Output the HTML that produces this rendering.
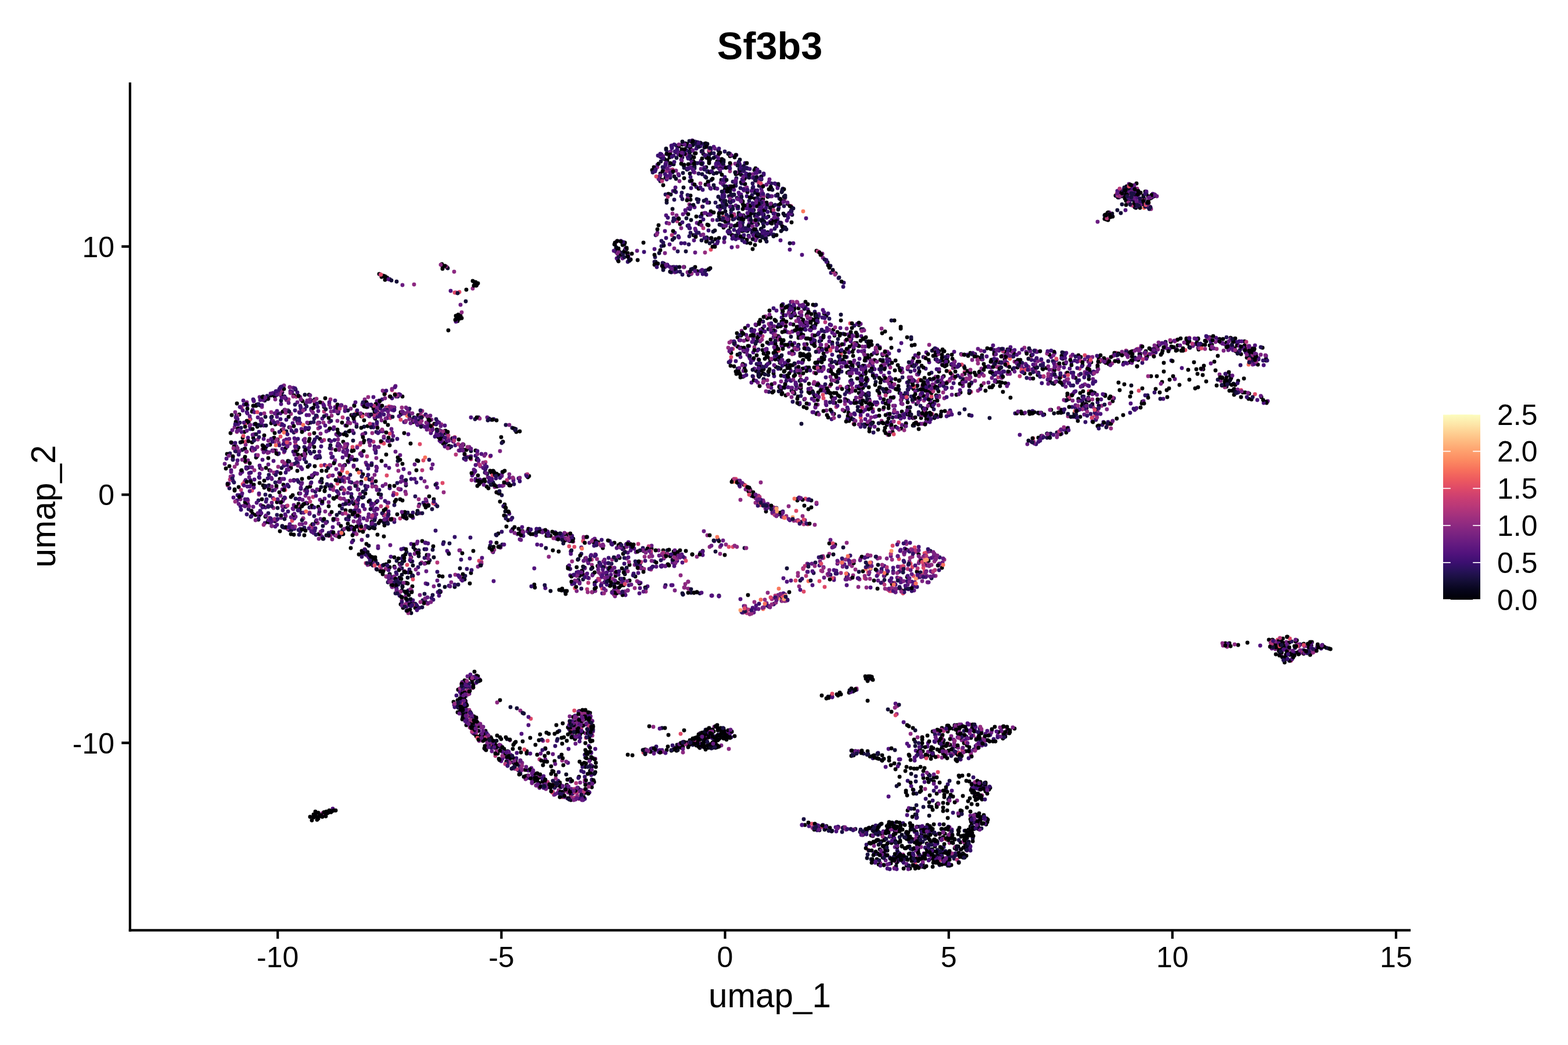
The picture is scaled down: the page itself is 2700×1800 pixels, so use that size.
<!DOCTYPE html><html><head><meta charset="utf-8"><style>html,body{margin:0;padding:0;background:#fff;}svg{display:block}text{font-family:"Liberation Sans",Arial,sans-serif;fill:#000}</style></head><body>
<svg width="2700" height="1800" viewBox="0 0 2700 1800">
<rect width="2700" height="1800" fill="#fff"/>
<defs><linearGradient id="g" x1="0" y1="0" x2="0" y2="1"><stop offset="0.000" stop-color="#fcfdbf"/><stop offset="0.050" stop-color="#fde7a9"/><stop offset="0.100" stop-color="#fecf92"/><stop offset="0.150" stop-color="#feb77e"/><stop offset="0.200" stop-color="#fe9f6d"/><stop offset="0.250" stop-color="#fc8961"/><stop offset="0.300" stop-color="#f7705c"/><stop offset="0.350" stop-color="#ed5a5f"/><stop offset="0.400" stop-color="#de4968"/><stop offset="0.450" stop-color="#ca3e72"/><stop offset="0.500" stop-color="#b73779"/><stop offset="0.550" stop-color="#a1307e"/><stop offset="0.600" stop-color="#8c2981"/><stop offset="0.650" stop-color="#782281"/><stop offset="0.700" stop-color="#641a80"/><stop offset="0.750" stop-color="#51127c"/><stop offset="0.800" stop-color="#3b0f70"/><stop offset="0.850" stop-color="#251255"/><stop offset="0.900" stop-color="#140e36"/><stop offset="0.950" stop-color="#06051a"/><stop offset="1.000" stop-color="#000004"/></linearGradient></defs>
<g fill="none" stroke-width="6.90" stroke-linecap="round"><path stroke="#3b0f70" d="M1161 249h0m21 10h0m6-5h0m3-11h0m6 1h0m27 14h0m13 1h0m-100 11h0m41 14h0m6-14h0m2 13h0m1-19h0m19 16h0m11-8h0m21 8h0m7 9h0m15-21h0m13 28h0m5-2h0m3 1h0m2-14h0m2 18h0m2-9h0m-118 12h0m4 36h0m26-16h0m15-18h0m34 1h0m32-2h0m2 14h0m4-12h0m0 33h0m11-16h0m0 4h0m12-10h0m1-11h0m-102 67h0m55 2h0m3 1h0m39-29h0m4-2h0m3 23h0m3 2h0m35-23h0m-171 73h0m34-9h0m51 0h0m0-14h0m3 16h0m14-19h0m14 8h0m0-4h0m8 13h0m0-11h0m13-1h0m5-13h0m7 18h0m-219 31h0m45 34h0m36 4h0m16-5h0m10 6h0m116 58h0m27 5h0m28-7h0m-41 18h0m62 8h0m7 15h0m1-23h0m51 30h0m-143 15h0m5 27h0m20-32h0m44 24h0m302-6h0m48 9h0m41-8h0m206 1h0m126-5h0m-849 20h0m16 7h0m2 17h0m48 2h0m21 2h0m64-16h0m64 14h0m21-4h0m20 12h0m12-3h0m27 6h0m1-23h0m18 9h0m13-10h0m120 10h0m6-5h0m51-6h0m25-8h0m23 31h0m14-9h0m12-24h0m6-3h0m7 34h0m19-14h0m9 16h0m-1466 40h0m17-7h0m46-23h0m3 9h0m33 13h0m91 9h0m43-8h0m5-2h0m684-22h0m68-2h0m81-3h0m6 27h0m23 5h0m60-29h0m18 4h0m243-8h0m41 1h0m-1444 70h0m11-18h0m35 19h0m63-31h0m27 38h0m25-18h0m43 10h0m0 0h0m1 5h0m0-32h0m22-2h0m2 18h0m29 7h0m7-22h0m15 25h0m5-14h0m709 6h0m27-20h0m76 25h0m4-16h0m70 7h0m-1202 59h0m31-19h0m8-14h0m23-3h0m2 14h0m71 2h0m53 10h0m66-13h0m123 13h0m-383 20h0m78-5h0m37 8h0m19-9h0m86 31h0m13-5h0m6-9h0m198 6h0m-446 29h0m9-5h0m11 25h0m100-26h0m3 33h0m52-6h0m3-15h0m22-17h0m13 29h0m9-14h0m27-4h0m30 8h0m17 2h0m154-13h0m12-6h0m39 0h0m-406 49h0m0 6h0m104-10h0m23 6h0m11-5h0m104-4h0m213 52h0m14-1h0m29 6h0m51 7h0m14 2h0m-26 26h0m13 18h0m10 3h0m21-36h0m20 1h0m51 32h0m1-20h0m-147 30h0m48 17h0m50-15h0m1138 136h0m46-7h0m2-6h0m1 3h0m-1482 61h0m-13 43h0m13 1h0m6-20h0m185 51h0m666-1h0m-814 21h0m1-4h0m859 9h0m12-2h0m-802 67h0m20-2h0m9 6h0m5 12h0m64 20h0"/>
<path stroke="#7c2382" d="M1181 266h0m15 31h0m19-30h0m6 12h0m16-12h0m29 15h0m7-1h0m24 19h0m-15 25h0m21 7h0m681 8h0m-690 21h0m3-6h0m6-11h0m607 22h0m35-21h0m16 11h0m1-3h0m-682 56h0m-209 31h0m91 29h0m220 86h0m46 13h0m-123 18h0m1 33h0m3-31h0m37 7h0m22 6h0m35-10h0m220 25h0m66-12h0m45 11h0m147 0h0m36-2h0m25 2h0m23-19h0m140-4h0m58 21h0m-807 13h0m26-2h0m26 36h0m68-33h0m29-7h0m60 11h0m14 14h0m6 10h0m26-6h0m30-15h0m30 16h0m3-30h0m97 12h0m47-1h0m40 15h0m10-1h0m6-13h0m0-9h0m226 22h0m2 11h0m-1613 27h0m0-19h0m2 22h0m2 3h0m24-5h0m17 4h0m33 9h0m61-9h0m5 8h0m30-10h0m745 11h0m14-1h0m41-20h0m20 3h0m75 3h0m30-16h0m5 0h0m252 14h0m23-18h0m-1464 74h0m1-26h0m46-9h0m56 21h0m41 6h0m56-24h0m45 29h0m52-22h0m3-2h0m39 14h0m680-16h0m38 8h0m37 10h0m23-20h0m14 32h0m421-33h0m-1549 65h0m16-3h0m35 11h0m17-1h0m96-3h0m15-25h0m6 24h0m5-4h0m73-8h0m120 16h0m18-6h0m-400 29h0m19-6h0m71 12h0m79-12h0m68 25h0m3-29h0m179 14h0m26 16h0m24-2h0m-401 23h0m49 5h0m1 9h0m85-21h0m4-2h0m49 3h0m71 5h0m105-17h0m12 17h0m449 19h0m-881 13h0m72 18h0m41-4h0m16 0h0m19 1h0m32 2h0m9 10h0m41-21h0m4 21h0m69-14h0m592-19h0m32 18h0m-821 18h0m26 20h0m20 8h0m352-17h0m81 15h0m-373 30h0m5 14h0m77-17h0m109 22h0m159 4h0m97-18h0m14 11h0m70-4h0m16-8h0m211 10h0m61 5h0m105 0h0m10-9h0m19-5h0m11 12h0m7-1h0m-844 46h0m35-21h0m220-2h0m11 22h0m18-1h0m27-14h0m92 14h0m373-1h0m20-31h0m-863 49h0m367-7h0m261 12h0m32-15h0m854 105h0m9-23h0m21 7h0m10 0h0m5 0h0m-1448 63h0m-14 12h0m6 32h0m4-15h0m203 39h0m228 8h0m440-4h0m64 10h0m-919 5h0m120 13h0m73-13h0m234 21h0m236 10h0m110-24h0m50-2h0m5 12h0m10 18h0m3-23h0m16 22h0m9-25h0m26-10h0m18-2h0m-848 45h0m15 10h0m7-1h0m723-9h0m-706 44h0m12 1h0m8-2h0m4 11h0m14 10h0m2-14h0m43-7h0m649 31h0m35 27h0m2 11h0m-174 30h0m75 12h0m13-34h0m-83 62h0"/>
<path stroke="#251255" d="M1165 251h0m46-3h0m-63 17h0m1-3h0m9 35h0m29-25h0m9 18h0m25-23h0m24 16h0m3-22h0m60 35h0m-154 10h0m66 7h0m35 25h0m2-13h0m3 13h0m8-31h0m9 9h0m2-7h0m17 15h0m32-8h0m20 9h0m-187 19h0m45 29h0m26-24h0m7 17h0m16 7h0m19-29h0m3 1h0m8 10h0m3-1h0m3 4h0m4 9h0m16-1h0m29 4h0m-211 35h0m55-16h0m5 12h0m100 5h0m14-7h0m16 11h0m13-6h0m2-10h0m15-3h0m-222 60h0m1-8h0m39-10h0m19-12h0m-30 48h0m0-3h0m9-6h0m10 13h0m228 64h0m-89 17h0m61-1h0m4 18h0m36-3h0m14-9h0m23 16h0m19-14h0m5 15h0m-170 26h0m62-3h0m7 2h0m13 13h0m202 1h0m122-10h0m400-24h0m31 22h0m-888 21h0m15 11h0m33-8h0m4 14h0m2-15h0m45 30h0m2-34h0m15 12h0m78 6h0m5-17h0m114 17h0m14 3h0m0-9h0m22 8h0m97-10h0m67 19h0m45-29h0m43 0h0m-1400 68h0m43-23h0m186 16h0m680 9h0m58-16h0m59 14h0m40-16h0m103-9h0m5 3h0m-1217 60h0m55-3h0m6-13h0m16-6h0m19 14h0m26 8h0m1-22h0m4-4h0m109 25h0m1-17h0m40 4h0m718-3h0m37 6h0m43 14h0m94-17h0m12 14h0m14-23h0m-1102 40h0m31 20h0m4-5h0m27 12h0m67-14h0m11 17h0m2-31h0m94-3h0m-346 40h0m150 8h0m68 3h0m185-2h0m24 2h0m27 20h0m15 1h0m-470 28h0m8-10h0m28-4h0m83 3h0m4 12h0m66-19h0m21 8h0m13 26h0m35-13h0m223-11h0m-431 29h0m32 25h0m42-4h0m22 6h0m55 5h0m9-14h0m32-18h0m234 27h0m11 3h0m-368 21h0m1 8h0m2-6h0m49 3h0m14 5h0m303-12h0m98 69h0m20-26h0m11 13h0m5-9h0m74-14h0m16 0h0m3 4h0m9 1h0m5 27h0m3-9h0m1093 171h0m19-28h0m5 10h0m24-5h0m-1470 69h0m4 31h0m6 16h0m183 4h0m669 24h0m-814 29h0m795 0h0m92-25h0m-837 47h0m22 24h0m11 16h0m6 4h0m20 3h0m2-7h0m7 1h0m13 24h0m21-15h0"/>
<path stroke="#942c80" d="M1132 288h0m815 35h0m-760 29h0m164-9h0m-289 73h0m331 122h0m-22 15h0m-83 32h0m159 10h0m77 10h0m87 4h0m1-8h0m74 18h0m78-20h0m80 15h0m63 5h0m35-7h0m81-24h0m101-4h0m39 35h0m-866 30h0m24 6h0m19-20h0m19 18h0m10-26h0m9 20h0m24-5h0m16-8h0m13 3h0m209 9h0m153-25h0m12 28h0m7-12h0m15 22h0m9-16h0m1 11h0m37-21h0m16-4h0m25-3h0m-1418 62h0m58 6h0m874-29h0m149 22h0m23-15h0m15 26h0m68-25h0m213 26h0m-1413 31h0m8-19h0m9 2h0m45 5h0m2 20h0m9-10h0m168-18h0m2-2h0m33 23h0m676-11h0m387-17h0m16 14h0m42 2h0m1-18h0m8 7h0m-1446 49h0m25-16h0m4 20h0m7 2h0m9 16h0m1-3h0m5-9h0m15-24h0m271 18h0m748-12h0m265 2h0m-1371 45h0m162 5h0m24 3h0m77 7h0m138-12h0m-378 53h0m45 6h0m41 0h0m6-37h0m55 9h0m85 19h0m43 11h0m43-12h0m120-23h0m380 1h0m42 28h0m-835 21h0m141 9h0m123-18h0m566 0h0m29 18h0m7 0h0m-798 26h0m44 14h0m404 9h0m98 5h0m476-1h0m-933 9h0m10 23h0m88 0h0m125-22h0m134 20h0m28 1h0m6 5h0m9-10h0m13 13h0m58 3h0m17-34h0m312 9h0m28 10h0m7 8h0m4 3h0m15-13h0m17-5h0m22 18h0m58-24h0m11 8h0m27 12h0m-943 31h0m110-12h0m219-3h0m6 3h0m29-3h0m14 20h0m41 6h0m28-32h0m253 6h0m62 9h0m12-9h0m72 16h0m20 1h0m11 11h0m0-33h0m2 20h0m27-7h0m12-8h0m14-1h0m-906 55h0m1-3h0m356-14h0m223 31h0m37-22h0m882 75h0m6 13h0m-1385 43h0m-6 21h0m-23 41h0m8 11h0m4 5h0m8-4h0m13 8h0m909 7h0m-902 23h0m6-4h0m1 13h0m178-24h0m4 6h0m591 0h0m65 0h0m28-2h0m30-4h0m-867 43h0m101 6h0m686-2h0m-692 53h0m3-9h0m36 21h0m8-9h0m4-13h0m678 19h0m-91 58h0m35 24h0m-119 37h0m64-21h0m1 6h0"/>
<path stroke="#4c117a" d="M1925 336h0m14-5h0m10-3h0m4-5h0m1 15h0m-27 2h0m18 9h0m-393 242h0m567 62h0m57-24h0m-173 58h0m-373 30h0m209 20h0m14-18h0m42-6h0m5 14h0m54-21h0m3-3h0m-1091 58h0m922 0h0m39-21h0m1 7h0m-1164 152h0m47-7h0m39-23h0m567 0h0m28 17h0m15 10h0m46-28h0m-836 50h0m138 19h0m859-2h0m-932 25h0m16-16h0m22 15h0m156 12h0m337-5h0m217 13h0m28-5h0m147-29h0m6 28h0m18-31h0m22 19h0m-956 19h0m35 9h0m71 31h0m682-38h0m4 1h0m18 5h0m38 1h0m14-6h0m25 13h0m7 11h0m30 2h0m-871 26h0m7 1h0m4 6h0m566 13h0m3-11h0m20 5h0m48-27h0m7 12h0m-105 226h0m-389 28h0m77 2h0m59-13h0m27 13h0m109 5h0m42-17h0m21-3h0m6 8h0m-185 52h0m-10 11h0m561 8h0m23-7h0m96 27h0m-110 35h0m-185 14h0m16 4h0m43 0h0m31 11h0m24-12h0m5-1h0m9 7h0m18-3h0m31 19h0m5-15h0m25 1h0m-83 37h0m29 13h0m40-5h0m2-4h0m4 1h0m62-13h0"/>
<path stroke="#f9795d" d="M1341 1014h0"/>
<path stroke="#090720" d="M1189 260h0m24-6h0m-76 45h0m21-17h0m6-20h0m19 30h0m6-18h0m2 7h0m5-17h0m15 1h0m5 23h0m58-13h0m0 18h0m25 0h0m-135 15h0m93 30h0m2-13h0m17-24h0m20 27h0m44-8h0m582 17h0m10 1h0m3-6h0m10-5h0m15 7h0m-715 40h0m4-28h0m23 31h0m28-5h0m15-1h0m22 8h0m14-8h0m574-31h0m30 0h0m0 5h0m8-2h0m2 4h0m17-6h0m-765 68h0m69 9h0m1-20h0m24 6h0m12 0h0m15-24h0m-276 49h0m2 19h0m8-6h0m3-21h0m1 10h0m57 23h0m21 14h0m5-8h0m36 4h0m965 146h0m-56 40h0m-234 47h0m22 2h0m56-35h0m164 2h0m4-5h0m8 0h0m-309 51h0m35 0h0m37-7h0m-92 49h0m-925 127h0m444-11h0m-678 86h0m20 20h0m91-16h0m688-5h0m0-13h0m77 31h0m-847 20h0m6-4h0m17 6h0m4 22h0m5 2h0m14-27h0m55 19h0m17 0h0m165 7h0m-238 21h0m23-1h0m612-10h0m81 172h0m-200 57h0m-353 16h0m34 25h0m103 1h0m103-6h0m23 3h0m30-13h0m17-4h0m28 4h0m27-10h0m9-11h0m-239 43h0m591 29h0m-580 9h0m660 6h0m1 54h0m-269 27h0m101 3h0m54 11h0m8-14h0m8 23h0m26-18h0m11 9h0m57-19h0m0 1h0m8-4h0m-162 68h0m21-13h0m18 14h0m10-28h0m10 0h0m42 18h0m18-8h0m29-12h0"/>
<path stroke="#140e36" d="M1180 247h0m3 5h0m4-9h0m-48 28h0m3 22h0m33-22h0m3 18h0m18-2h0m22 9h0m3-24h0m0-11h0m2 13h0m17 5h0m0 17h0m33-5h0m-136 21h0m13 23h0m59-35h0m7 6h0m7 18h0m2-14h0m6 14h0m59-18h0m18 13h0m19 7h0m1-2h0m2 3h0m16 4h0m6 9h0m-163 14h0m58-8h0m2 5h0m7-4h0m5 9h0m8-15h0m3 30h0m20 3h0m10-19h0m29 7h0m3 6h0m12-20h0m9 23h0m4-4h0m5 3h0m566-3h0m-722 47h0m52-9h0m6 1h0m12-18h0m-149 63h0m-446 34h0m88-23h0m415 12h0m-384 45h0m583 13h0m-91 35h0m81 11h0m15-37h0m16 13h0m80 13h0m-195 47h0m55-2h0m2-15h0m40 4h0m53 3h0m51-16h0m113 16h0m6 15h0m101-16h0m120 12h0m91-3h0m84-23h0m128 14h0m-812 43h0m2-21h0m16-5h0m16 10h0m20 26h0m16-23h0m51 10h0m46-7h0m33 0h0m8-7h0m60 30h0m68-6h0m1-22h0m64-6h0m157 17h0m-1434 56h0m27-21h0m35-6h0m1 12h0m15-3h0m15 10h0m2-2h0m89 5h0m754-5h0m79-15h0m16 20h0m8-14h0m8-2h0m0 4h0m52-10h0m16-6h0m14 31h0m2-24h0m10-4h0m14 18h0m-1180 41h0m2 1h0m70-21h0m131 28h0m10-20h0m14-12h0m43 7h0m27 15h0m17 5h0m6 7h0m733-36h0m21 35h0m39-17h0m167 1h0m-1287 55h0m150-17h0m15-8h0m2 16h0m11-21h0m13 14h0m158 9h0m2-6h0m27 5h0m-347 39h0m37 0h0m60-20h0m140 8h0m154 22h0m-374 38h0m57 39h0m63-10h0m75 14h0m0-12h0m7 2h0m-169 26h0m4 0h0m35 3h0m19-10h0m371 9h0m17 8h0m40 9h0m-123 9h0m122 9h0m96 28h0m26 0h0m45-23h0m15 1h0m67-6h0m50-6h0m73 35h0m-351 19h0m171 24h0m1 2h0m14-3h0m48 5h0m954 79h0m38 11h0m-1428 58h0m1-1h0m18-8h0m-35 49h0m3 5h0m9-27h0m6 41h0m86-13h0m91 33h0m0 3h0m24-16h0m4 7h0m9 6h0m626-4h0m34 11h0m-843 29h0m20-1h0m732-2h0m35-1h0m3-10h0m1 23h0m38-29h0m23 5h0m-791 55h0m701-28h0m-670 50h0"/>
<path stroke="#de4968" d="M1940 335h0m32-1h0m-763 22h0m728-16h0m-1146 163h0m573 68h0m100-14h0m-202 44h0m186 9h0m420 2h0m8 5h0m102-7h0m63-7h0m119 16h0m-525 21h0m21-12h0m171 21h0m-1164 29h0m7 22h0m747-20h0m1 6h0m-996 44h0m322 3h0m1162 1h0m9-7h0m-1432 25h0m12 6h0m14 8h0m214-1h0m60-12h0m-275 46h0m81 12h0m77 8h0m63-26h0m-295 52h0m147-12h0m181-1h0m505-7h0m21 20h0m-785 52h0m164-24h0m640-5h0m64 12h0m20 23h0m-737 72h0m444-25h0m164-8h0m156 19h0m116-7h0m3-14h0m11 23h0m7 12h0m16 2h0m4-34h0m17 10h0m1 8h0m-223 39h0m41 1h0m78-5h0m6-10h0m40 32h0m38-26h0m6-8h0m13 0h0m-298 70h0m261-32h0m-641 216h0m79 17h0m-148 27h0m98-6h0m66-5h0m99 25h0m147-31h0m-351 73h0m64 35h0m527 91h0m81 22h0"/>
<path stroke="#6b1d81" d="M1992 338h0m-1207 166h0"/>
<path stroke="#331067" d="M1940 331h0m6-3h0m2-9h0m3 16h0m-6 5h0m26 3h0m-540 127h0m7 1h0m14 23h0m515 131h0m50-4h0m119 8h0m-272 63h0m2-9h0m12 17h0m-1028 22h0m784-7h0m2-8h0m112 5h0m104-9h0m26 10h0m14-10h0m6 29h0m-122 29h0m8 4h0m-522 64h0m2-3h0m27 16h0m3 12h0m-615 45h0m632-31h0m35 22h0m2-9h0m-729 29h0m164 15h0m-63 52h0m129-26h0m327 8h0m216 13h0m18-12h0m48 17h0m6-20h0m26 3h0m56-2h0m50 13h0m-891 10h0m68 28h0m2-17h0m8 15h0m656-19h0m2 0h0m19 2h0m39-10h0m36 23h0m3-19h0m22 29h0m19-2h0m4-22h0m1 5h0m-896 32h0m12 26h0m6-9h0m31-4h0m6-9h0m603 5h0m5 0h0m124 153h0m-519 97h0m31-15h0m20 30h0m119-4h0m32-12h0m54-12h0m2-5h0m12 4h0m33-1h0m252 29h0m1-2h0m-511 31h0m4 2h0m2 8h0m496-32h0m-542 39h0m633 31h0m12 3h0m23-19h0m3-9h0m41 8h0m4 7h0m2 1h0m4-15h0m-144 66h0m16 0h0m86-18h0m37 17h0m8-3h0m-279 16h0m83-1h0m2 26h0m7-28h0m84-3h0m10 36h0m16-11h0m9-29h0m15 20h0m32 4h0m2 8h0m17-31h0m-175 50h0m23 26h0m15-24h0m27 18h0m5-29h0m34 12h0m25 1h0m7-5h0"/>
<path stroke="#1a1042" d="M1936 335h0m2-5h0m14-3h0m22 6h0m-72 38h0m8 1h0m56-23h0m-894 71h0m0 15h0m1 2h0m357 21h0m730 162h0m-303 67h0m7-4h0m10 2h0m28 12h0m1-17h0m73 1h0m158-7h0m-1316 48h0m53 10h0m11 5h0m770-25h0m135-1h0m16 43h0m17-9h0m-1153 153h0m40-10h0m1 1h0m30-18h0m0-1h0m15 2h0m-163 41h0m18 18h0m25-8h0m131 11h0m80 6h0m21-2h0m-218 28h0m3 5h0m42 8h0m2-21h0m6-7h0m21-3h0m3 23h0m21-24h0m746 22h0m7 1h0m93-2h0m-923 35h0m7 2h0m4-9h0m5 10h0m24 12h0m1-25h0m264 26h0m428-32h0m117-4h0m20 23h0m47-20h0m19 10h0m-923 26h0m20-1h0m14 19h0m16-17h0m1 12h0m13-10h0m579 20h0m-361 214h0m252-2h0m2 0h0m4 3h0m-236 5h0m136 25h0m72-7h0m-170 50h0m-40 13h0m650 31h0m2-32h0m47 26h0m-104 16h0m12 3h0m-176 34h0m19 7h0m18-5h0m2-1h0m12 3h0m8 0h0m8 5h0m15-7h0m20-6h0m10 15h0m15-9h0m16 16h0m9 8h0m23 0h0m2-8h0m2 3h0m93-18h0m4 0h0m-190 53h0m26-7h0m13 3h0m17 2h0m27-6h0m23 0h0m7 2h0m1-10h0m4 26h0m12-5h0m2-8h0m3-2h0"/>
<path stroke="#b73779" d="M1158 292h0m100-9h0m672 49h0m39 11h0m-758 50h0m565 220h0m146-5h0m51 8h0m53-30h0m121 21h0m-486 34h0m56-9h0m2 18h0m12-27h0m25 25h0m103-13h0m-1349 48h0m937-17h0m225 9h0m-1114 34h0m19-8h0m76 3h0m19 13h0m0 3h0m43 5h0m13-8h0m11 5h0m731 8h0m33-25h0m75 23h0m-1153 50h0m0-18h0m108-12h0m25 10h0m85 3h0m146 4h0m47 31h0m-440 30h0m25 4h0m118 26h0m101-28h0m-208 52h0m224-8h0m13 22h0m665-7h0m2 1h0m-840 20h0m39-2h0m442 14h0m122 17h0m285-34h0m163 31h0m-718 34h0m332-10h0m9-2h0m380 20h0m24-25h0m9 16h0m13 1h0m0-4h0m20 10h0m-605 41h0m19-18h0m32 20h0m326-25h0m124-3h0m22 27h0m76-34h0m-874 58h0m550 16h0m43-24h0m894 106h0m-1426 49h0m25 64h0m179 5h0m622 39h0m71-23h0m-841 30h0m762 1h0m-663 61h0m492 61h0m174 57h0"/>
<path stroke="#51127c" d="M1229 253h0m-86 36h0m41 1h0m10 6h0m44-6h0m8-5h0m11-20h0m19 30h0m27 3h0m-168 11h0m58 8h0m55-9h0m8 13h0m8 15h0m8-4h0m1 3h0m18-35h0m9 28h0m11-3h0m-115 32h0m28 12h0m16-9h0m17-4h0m31-4h0m11 3h0m16 7h0m14 17h0m7-10h0m3 8h0m19-8h0m30 7h0m-240 8h0m87 35h0m37-18h0m0 9h0m5 0h0m36-10h0m13-18h0m18 32h0m22 5h0m-545 72h0m324-31h0m9 0h0m55 5h0m138 74h0m21-10h0m23 4h0m26 1h0m-100 37h0m11 1h0m7-2h0m30 1h0m45 2h0m21-13h0m16 5h0m36 14h0m-212 18h0m19-1h0m3 24h0m11-16h0m16-3h0m15 2h0m3 14h0m1-32h0m28 24h0m86-16h0m5 22h0m4-8h0m26-3h0m20-2h0m106 2h0m0-2h0m16 16h0m13-12h0m23 5h0m44-16h0m10 9h0m0-3h0m20-3h0m42 7h0m28 10h0m6-7h0m20 0h0m170-17h0m60 6h0m28-15h0m11 9h0m17 5h0m1 7h0m8-9h0m20 2h0m-857 63h0m17-28h0m45 17h0m6-9h0m13-15h0m32 4h0m2 9h0m29 19h0m19-28h0m7 29h0m2-20h0m5 0h0m9 15h0m9-22h0m20 17h0m15-14h0m54-6h0m22-3h0m5 30h0m34-3h0m30-6h0m16 2h0m23-7h0m6 15h0m11-30h0m34 15h0m5-2h0m20-4h0m40 17h0m18-16h0m13-12h0m18 20h0m-1454 47h0m7 8h0m25 0h0m33-2h0m0-17h0m16-5h0m129 22h0m14-12h0m8 15h0m1-4h0m10-19h0m25 3h0m655-14h0m3 8h0m7-12h0m18 1h0m23 34h0m8-17h0m37 7h0m37-20h0m8 34h0m0-28h0m116 3h0m3 17h0m15-10h0m71-12h0m48-9h0m-1305 61h0m4-16h0m9 13h0m10 14h0m29-21h0m72 9h0m5 12h0m17-31h0m18 31h0m15-7h0m23-25h0m18 16h0m4-5h0m39 0h0m17 10h0m25 14h0m0-6h0m668-29h0m56 4h0m26 4h0m4-3h0m4 9h0m32 14h0m3-16h0m5 21h0m26-22h0m33-5h0m8 11h0m-1174 36h0m7 22h0m31-10h0m21 7h0m21-18h0m18 22h0m56-9h0m10 10h0m76-19h0m9-1h0m84-4h0m8 0h0m4 2h0m8 4h0m29 13h0m-411 37h0m31-5h0m14-19h0m9 6h0m42 17h0m9-9h0m15 5h0m41-4h0m10 1h0m7-6h0m8 19h0m80-13h0m31 6h0m107-16h0m62 26h0m-448 36h0m17-19h0m37 23h0m46 1h0m28-5h0m39-3h0m5-27h0m4 26h0m10-20h0m4 28h0m86-37h0m134 5h0m6 1h0m33 10h0m-457 25h0m19 6h0m19 21h0m18 11h0m43-7h0m70 1h0m24-26h0m11 22h0m7 6h0m22-23h0m5 19h0m15-4h0m216-3h0m-421 16h0m21 3h0m13 5h0m9-6h0m37 12h0m4 3h0m33 1h0m44-14h0m315 34h0m51 11h0m30 20h0m2-6h0m32 6h0m15-26h0m20 16h0m10-15h0m15 2h0m11 33h0m25-24h0m25 2h0m6-3h0m1 14h0m31-17h0m4 4h0m-228 35h0m10-1h0m19-2h0m16 13h0m16-1h0m9-10h0m6 19h0m41-22h0m3 26h0m1-9h0m12 6h0m43-2h0m241 0h0m59 0h0m-381 17h0m24-3h0m124 4h0m13 1h0m932 85h0m44 16h0m23-6h0m10 2h0m-1455 93h0m2-20h0m7 12h0m8-26h0m733 29h0m-717 47h0m85-10h0m70 7h0m10-4h0m1-19h0m6-8h0m3 24h0m9-1h0m670 10h0m-843 33h0m694-1h0m47 3h0m21-13h0m18-5h0m34 21h0m9-30h0m31-6h0m7 4h0m-834 47h0m23 5h0m10 13h0m40 8h0m614-29h0m28-6h0m8 2h0m-657 53h0m39 8h0m20 0h0m19 1h0m-434 27h0"/>
<path stroke="#000004" d="M1169 252h0m5 5h0m3-10h0m12 9h0m3-11h0m-69 48h0m3-5h0m15 7h0m3-21h0m5 2h0m23-13h0m2-3h0m16 9h0m8-5h0m15 25h0m3-18h0m4 2h0m21 6h0m2-5h0m14 7h0m0-12h0m20 19h0m9-7h0m15 9h0m-165 14h0m4 6h0m2 9h0m9 15h0m27-27h0m37 11h0m33 9h0m34-19h0m40 31h0m2-13h0m3-4h0m594 15h0m3 1h0m2-1h0m4-4h0m24 3h0m3-6h0m2-1h0m10 8h0m3-7h0m-804 46h0m41-8h0m30 10h0m1-23h0m4 12h0m1-27h0m35 31h0m11-31h0m1 14h0m2-14h0m6 2h0m4 13h0m8-8h0m3 15h0m26-9h0m3-2h0m560 26h0m1-5h0m3 7h0m31-33h0m6-3h0m6-3h0m3 17h0m15-5h0m9-3h0m2-7h0m-904 76h0m140-2h0m1-1h0m1-28h0m20 23h0m23-5h0m14 2h0m3-9h0m1 12h0m1-1h0m6 4h0m6 6h0m5-16h0m4-8h0m26-11h0m2 1h0m-568 70h0m1 4h0m296-38h0m28 26h0m12 1h0m29 8h0m169-27h0m4-7h0m-642 54h0m2-1h0m3 7h0m106-22h0m34 39h0m11-15h0m6 8h0m377-32h0m3 7h0m147 66h0m21-1h0m7-1h0m12-11h0m32 20h0m-647 29h0m14-21h0m2 5h0m2-7h0m3-2h0m2 4h0m474 26h0m14-9h0m30 1h0m8-18h0m6-1h0m2 15h0m3 7h0m4-16h0m3 10h0m7-9h0m1 18h0m2-21h0m4 11h0m8-18h0m5 15h0m3 10h0m6-22h0m4-1h0m20 5h0m1 14h0m4-21h0m0 16h0m0-19h0m42 37h0m9-2h0m7 3h0m17-19h0m40 14h0m32-11h0m538 16h0m-831 26h0m1 3h0m22-8h0m32 3h0m7 10h0m6 6h0m1-34h0m8 7h0m0 11h0m0 16h0m0-28h0m2 16h0m9-14h0m15-3h0m14 4h0m0-12h0m8 28h0m0 2h0m10 7h0m1-6h0m7-21h0m2 4h0m8 24h0m0-20h0m3-14h0m33 19h0m7 1h0m1 1h0m1 8h0m8-29h0m11 5h0m2 4h0m9-12h0m1 1h0m5 33h0m2-5h0m1-20h0m1-4h0m1 29h0m3-29h0m1 23h0m9-2h0m25-10h0m27-18h0m11 36h0m35-15h0m18 3h0m45 3h0m12 7h0m47-9h0m27 14h0m104-5h0m31 3h0m3-6h0m6 5h0m18-9h0m31-3h0m4 13h0m6 2h0m11-12h0m23-12h0m7 12h0m36-4h0m6-21h0m2 9h0m3 6h0m15-14h0m12 10h0m2-6h0m6-7h0m4 13h0m13-10h0m6 0h0m13-2h0m8 1h0m1 22h0m2-10h0m7 15h0m12 0h0m4-6h0m0-1h0m1 2h0m1 10h0m1 2h0m1-7h0m2-7h0m15-4h0m6 19h0m-916 13h0m15 18h0m0-22h0m19 28h0m1-19h0m3 3h0m4 8h0m1-17h0m8 23h0m5-24h0m3 11h0m13-8h0m7-7h0m8 14h0m1-11h0m4 6h0m4 0h0m5-5h0m10 3h0m4 22h0m3-32h0m7 11h0m3 1h0m10-1h0m2 1h0m0-9h0m23 13h0m3 1h0m2 16h0m7-9h0m6-23h0m6-3h0m13 27h0m4-18h0m0 2h0m11 0h0m5 16h0m2-17h0m4 14h0m8-5h0m1-13h0m5 9h0m3-14h0m9 38h0m1-5h0m25-33h0m6 35h0m1-22h0m0 21h0m17-3h0m5-24h0m28-8h0m17 3h0m11-1h0m0 9h0m3 8h0m2-16h0m13 9h0m7-3h0m5 28h0m30-17h0m18 1h0m1-18h0m2-3h0m13 38h0m0-34h0m53 20h0m13 2h0m1-4h0m8-6h0m6-2h0m6 23h0m7-18h0m10 12h0m13-9h0m7-13h0m7 22h0m12-22h0m12-8h0m0 16h0m3-13h0m11 9h0m12-12h0m7 6h0m73 21h0m22-8h0m56-4h0m45 15h0m7-1h0m6 5h0m14 1h0m10-4h0m17-28h0m7 4h0m14-7h0m-1744 78h0m1 0h0m4 0h0m14-10h0m12-8h0m12-7h0m6 1h0m29 7h0m12 14h0m4-5h0m2-11h0m10 16h0m9-3h0m30 4h0m29 2h0m30 0h0m668-34h0m34 2h0m3 3h0m2 7h0m27 6h0m2 13h0m3-30h0m13 9h0m7-1h0m9 15h0m1-13h0m0-14h0m6 7h0m11 4h0m12 21h0m2-17h0m6 6h0m15-12h0m11 19h0m7-21h0m0 8h0m10-14h0m4 16h0m29 9h0m3 7h0m2-19h0m2-3h0m1 25h0m4-13h0m1-25h0m7 10h0m5-5h0m2 12h0m7 7h0m1-3h0m12-14h0m4 3h0m2 17h0m4-22h0m15-1h0m5 24h0m9-24h0m1 2h0m3 15h0m13-21h0m22 20h0m7-4h0m15-11h0m0 12h0m21-13h0m7 9h0m13-9h0m12 1h0m18 20h0m101 2h0m22 12h0m1-5h0m0-29h0m7 32h0m4-7h0m10-13h0m25 9h0m18-14h0m20 4h0m147-12h0m27 9h0m3 7h0m1-6h0m2-1h0m1 2h0m15 1h0m7 2h0m4 10h0m-1745 51h0m2-25h0m14-10h0m8 5h0m9 26h0m24-6h0m1-11h0m19-9h0m10 9h0m34 21h0m27-38h0m47 14h0m4 6h0m13-4h0m0 20h0m2-23h0m7-13h0m15 20h0m0-10h0m6 6h0m16 15h0m37-13h0m6 8h0m2-2h0m27-1h0m2 10h0m100-13h0m576-13h0m8 11h0m10-6h0m25-2h0m3 10h0m34 10h0m2-28h0m21 26h0m1-27h0m3 13h0m2 17h0m15 3h0m10 3h0m1-29h0m10-7h0m9 18h0m0 13h0m5-5h0m9-8h0m3-17h0m6 19h0m0-18h0m1 8h0m1 5h0m24-8h0m142 3h0m18-2h0m12 1h0m35-5h0m10 32h0m22-20h0m11-15h0m19 31h0m23-4h0m10-9h0m-1526 25h0m24-2h0m13 18h0m2-8h0m19-4h0m3 20h0m7-4h0m7-12h0m6 3h0m7-16h0m7 31h0m40-12h0m59 1h0m16 13h0m64-7h0m25-21h0m11 18h0m48-11h0m7-2h0m1 13h0m4-22h0m2 18h0m4 8h0m1 3h0m8-16h0m16 11h0m21 10h0m47-15h0m23-17h0m648 0h0m251 10h0m5-3h0m10-4h0m4 6h0m-1418 54h0m6-4h0m6-12h0m0-5h0m21 8h0m19-6h0m37-6h0m18 12h0m5 12h0m61 5h0m13-13h0m19 3h0m7-16h0m1 3h0m8 4h0m5 17h0m42-15h0m32-2h0m28 18h0m97 6h0m7-24h0m2 27h0m23-5h0m20-1h0m3-2h0m-416 25h0m2-8h0m0 12h0m27-15h0m6 35h0m13-4h0m5-29h0m9 23h0m5-25h0m9 15h0m25-15h0m0 6h0m63 12h0m5-13h0m49 7h0m154-3h0m4-4h0m9 8h0m12-4h0m2 2h0m4 2h0m17-6h0m4 4h0m387-10h0m26 22h0m2-4h0m-870 21h0m2 5h0m9 10h0m7 7h0m8-1h0m9 4h0m7 5h0m13-30h0m37 3h0m15-1h0m8 4h0m11 2h0m18-1h0m29 7h0m8 1h0m4 6h0m6-22h0m42 33h0m10-2h0m24-35h0m4 2h0m1 24h0m5-1h0m7 3h0m31-17h0m130 1h0m1 16h0m3-13h0m4 21h0m1-14h0m464 4h0m33-24h0m12 9h0m-917 35h0m38 15h0m83-1h0m17-12h0m13 6h0m31 7h0m83 14h0m125-16h0m39-4h0m3 0h0m40 1h0m8 7h0m10 0h0m21-1h0m8 6h0m35 6h0m63 3h0m6 1h0m147-6h0m190 4h0m10 2h0m-820 17h0m11-7h0m1 5h0m6 19h0m10-9h0m0-3h0m24 18h0m1-1h0m44-30h0m5 6h0m13 17h0m13-29h0m232 35h0m30-14h0m21 13h0m2 0h0m42-21h0m11 19h0m18-1h0m40-24h0m12 10h0m6-8h0m7 10h0m317-1h0m77-12h0m61 31h0m-948 30h0m1-13h0m1-1h0m27-8h0m7 24h0m87-14h0m14-9h0m109 20h0m1 5h0m46 5h0m1-1h0m6 2h0m2 0h0m22-26h0m0-6h0m26 28h0m25-32h0m1 14h0m0 13h0m24-1h0m2-19h0m35 23h0m347-18h0m28-10h0m19 16h0m6 14h0m68-29h0m-885 62h0m10 7h0m0-3h0m2-1h0m9-3h0m339-27h0m146 0h0m917 88h0m71 5h0m3-11h0m4 7h0m5 3h0m0 5h0m2 4h0m1 8h0m1-23h0m0 1h0m2 17h0m1 0h0m1 8h0m1-32h0m5 32h0m6-25h0m11-2h0m0-2h0m6 9h0m0 14h0m0 0h0m10-5h0m7-5h0m5 8h0m0-18h0m10 6h0m19 5h0m-1491 63h0m13-12h0m2 2h0m1 5h0m4-18h0m6 8h0m3 6h0m675-5h0m-720 43h0m15 7h0m1 2h0m0-14h0m0 2h0m3 0h0m1 12h0m1-21h0m7-7h0m52 16h0m562-3h0m9-5h0m9-2h0m2 2h0m23-12h0m28 21h0m-702 20h0m4 12h0m1-4h0m1-1h0m2-5h0m0 4h0m1-1h0m3-4h0m2 5h0m5 21h0m2-5h0m3-5h0m0-10h0m5 24h0m0 0h0m2 1h0m7-7h0m152-5h0m5-12h0m6 20h0m1-17h0m2 16h0m2-29h0m6 25h0m2-26h0m1 3h0m4 19h0m4 6h0m6 4h0m0-6h0m206 7h0m5-6h0m4 7h0m5-4h0m4 2h0m9 2h0m311-7h0m57 3h0m10 6h0m9-5h0m7 1h0m27-8h0m1 1h0m1 10h0m59-2h0m11-2h0m-923 14h0m2 3h0m2-6h0m4 10h0m4-7h0m0 18h0m0-24h0m2 9h0m0-1h0m1 4h0m10 4h0m2-2h0m2 10h0m1-3h0m7-14h0m1 15h0m1-12h0m7 25h0m2-3h0m12-12h0m4-5h0m7 11h0m12 7h0m0-2h0m6-23h0m9 12h0m3 17h0m5-35h0m48 0h0m6 5h0m8 0h0m0-9h0m7 4h0m4-4h0m5 19h0m0 12h0m1 6h0m1-3h0m2 4h0m3-30h0m93 23h0m2 2h0m1 5h0m9-4h0m9-4h0m19 1h0m3-26h0m11 24h0m3 3h0m1-5h0m6-8h0m3 5h0m1 2h0m29 1h0m1-3h0m0-4h0m3-19h0m1 11h0m2 14h0m1-12h0m2 16h0m1-14h0m0-2h0m1 2h0m1-14h0m1-3h0m1 28h0m4-28h0m1 23h0m0-16h0m1 3h0m1 18h0m2-16h0m1 4h0m2 12h0m0-9h0m3 8h0m3-1h0m3-16h0m4-4h0m5 6h0m1 2h0m5-9h0m1 6h0m8-3h0m300 32h0m19-9h0m4-11h0m1 14h0m8-27h0m10 22h0m12-11h0m2 12h0m2-24h0m2 27h0m0-9h0m4 1h0m5-2h0m2 0h0m9 14h0m2-11h0m2-23h0m0 37h0m2-33h0m6 0h0m3 13h0m3 14h0m14-3h0m1 1h0m7-23h0m1-3h0m6 15h0m3-8h0m9 4h0m6 0h0m4 0h0m13-5h0m1-7h0m3 4h0m-858 46h0m6-2h0m6 1h0m3-5h0m17 28h0m6-10h0m38 6h0m4-4h0m4 6h0m40 3h0m1-26h0m10 9h0m1-6h0m12-9h0m4 24h0m64-29h0m381 0h0m40 5h0m24 12h0m6-3h0m9 23h0m10-10h0m2-7h0m7 2h0m22 5h0m2-5h0m11-16h0m5 32h0m3-35h0m2 35h0m40-32h0m2-4h0m13 32h0m-747 10h0m4-2h0m1-2h0m2 8h0m6-3h0m3-4h0m3 12h0m5 1h0m1-2h0m5 1h0m8-1h0m5-5h0m3 6h0m3 18h0m3-12h0m3-8h0m1-9h0m5 18h0m1 17h0m6-2h0m15-13h0m544-12h0m49-10h0m2 6h0m2 23h0m17-22h0m6 14h0m17 10h0m23-27h0m6 30h0m8-10h0m1-10h0m2 14h0m3-2h0m2-11h0m2-9h0m2 25h0m2-19h0m4 7h0m1-12h0m3 19h0m3-7h0m-1163 43h0m6 9h0m9-5h0m4-5h0m3-4h0m16-2h0m953 20h0m75-21h0m7-9h0m18 10h0m20 9h0m16-25h0m4 31h0m5-3h0m6 10h0m4-17h0m4 9h0m11 2h0m-298 9h0m17 8h0m9-3h0m63 6h0m7 21h0m1-14h0m3-15h0m1 28h0m1-20h0m3-2h0m10 19h0m1-11h0m1 19h0m1 1h0m5-1h0m1-34h0m1 6h0m4 12h0m2-13h0m1 24h0m3-3h0m1-25h0m2 10h0m5 18h0m5-30h0m0 5h0m10 18h0m5 13h0m12-25h0m1 13h0m0-22h0m3 31h0m3-3h0m1-22h0m12 10h0m1 4h0m2-21h0m0 6h0m2-3h0m6 20h0m2-8h0m2 12h0m9-22h0m0 18h0m5-10h0m1-8h0m5 1h0m1 10h0m0-13h0m5 25h0m5-5h0m6-16h0m0 28h0m2-32h0m2 25h0m1-10h0m1-1h0m4 7h0m0-8h0m1 3h0m1 4h0m1-4h0m2-5h0m3 17h0m2-15h0m1-5h0m0 5h0m0-15h0m0 11h0m2-14h0m0 10h0m4-3h0m6-7h0m2 7h0m13-8h0m-187 50h0m2 19h0m2-26h0m13 2h0m5 14h0m6 1h0m6 0h0m0-3h0m9 6h0m2 13h0m2-35h0m14 30h0m4 5h0m5-13h0m6-3h0m2 8h0m0-12h0m7-12h0m4 17h0m5-3h0m0-15h0m1 11h0m4 7h0m5-12h0m7 6h0m1-6h0m4 10h0m6-11h0m11-7h0m7 8h0m7 1h0m1-10h0m1 12h0m4-8h0m0 10h0"/>
<path stroke="#fe9f6d" d="M1352 1026h0"/>
<path stroke="#8c2981" d="M768 459h0m14 9h0m32 29h0m-19 41h0m587 351h0m-534 61h0m352 9h0m22-17h0m18 12h0m0-12h0m-68 49h0m7 21h0m1-6h0m0 0h0m5-4h0m0 12h0m191-4h0m104-12h0m12 14h0m53 204h0m-649 8h0m648 6h0m-428 64h0m60 2h0m-621 105h0"/>
<path stroke="#f7705c" d="M1970 358h0m3-7h0m4-3h0m-238 270h0m-1038 98h0m1150-8h0m-1233 106h0m873 166h0m-99 21h0m-82 32h0"/>
<path stroke="#641a80" d="M1193 259h0m-41 8h0m55 24h0m-73 17h0m114 5h0m88 4h0m1 1h0m598 8h0m7 7h0m7-9h0m8 2h0m4 9h0m-785 34h0m5-3h0m4-7h0m94 13h0m682-18h0m3-1h0m-832 48h0m68-17h0m101 30h0m-229 31h0m125-10h0m180 104h0m-72 37h0m4-8h0m38-8h0m5 8h0m9-10h0m14-9h0m2 6h0m3-12h0m14 25h0m14-14h0m53 22h0m21-18h0m-199 48h0m4-24h0m45-1h0m14 15h0m64 24h0m105-22h0m252 8h0m101 13h0m57-8h0m25-3h0m14 1h0m0 7h0m16-6h0m29-10h0m16 1h0m32-18h0m6 16h0m39-9h0m7 3h0m6 10h0m4-19h0m15 12h0m7 4h0m16 0h0m-884 34h0m107 21h0m121-32h0m18 6h0m3 18h0m10 3h0m39-28h0m1 32h0m43 0h0m6 1h0m48-11h0m37-11h0m5-7h0m40 0h0m27 11h0m29 0h0m2 15h0m5-11h0m23 14h0m11-5h0m24-14h0m239 8h0m-1664 40h0m6 5h0m52-7h0m7 11h0m112 3h0m0 1h0m25-6h0m33-8h0m682-15h0m32 1h0m23-3h0m47-3h0m43 34h0m17-22h0m6-1h0m7 10h0m2 15h0m11-16h0m24-9h0m63 6h0m19-15h0m194 33h0m21-34h0m310 27h0m-1777 28h0m9-18h0m15 33h0m19-10h0m1-2h0m20 3h0m48-23h0m44 13h0m32-12h0m14 12h0m47 3h0m3-10h0m20-1h0m20 20h0m37 13h0m797-23h0m13-6h0m8 21h0m21-12h0m21 7h0m7-6h0m13-3h0m22-8h0m211 8h0m19-4h0m-1446 59h0m4-31h0m38 37h0m99-36h0m17 5h0m4 2h0m3 19h0m73-26h0m16 2h0m76 4h0m1018 16h0m12-1h0m-1394 35h0m11 14h0m16 3h0m20-11h0m28-5h0m54-9h0m30 25h0m33-8h0m13-6h0m4-18h0m39 18h0m79-2h0m86-17h0m36-1h0m-442 51h0m53-10h0m26 21h0m7-14h0m37 20h0m21-5h0m21 14h0m6-38h0m17 27h0m25 11h0m49-2h0m34-27h0m62 3h0m91-7h0m428 2h0m3 10h0m0-8h0m13 9h0m1 3h0m1 1h0m-853 30h0m8 11h0m18-13h0m6-5h0m5 32h0m11-6h0m20-16h0m1 1h0m1-7h0m21-4h0m101 11h0m7 9h0m10-6h0m34 15h0m643-27h0m11 8h0m7 9h0m7-1h0m-852 26h0m4-5h0m72 11h0m12-14h0m28 14h0m61 23h0m223-10h0m13-14h0m5-2h0m22 1h0m27 6h0m11 8h0m42 7h0m6-5h0m3 0h0m406 0h0m130 3h0m-918 37h0m46 10h0m317-14h0m46 11h0m92-15h0m15 7h0m4-21h0m254 13h0m26 10h0m8-3h0m31-3h0m16 7h0m37-14h0m12 18h0m18-28h0m44 9h0m11 14h0m-910 47h0m24-13h0m20-5h0m242-10h0m3 13h0m32-22h0m27 36h0m4-4h0m29-22h0m369 1h0m83 28h0m3-25h0m18 12h0m1 8h0m10 2h0m0-11h0m21-22h0m8 0h0m-319 64h0m10 8h0m56-28h0m840 89h0m79-4h0m-1468 60h0m1 35h0m6-13h0m12 43h0m192 19h0m1-24h0m7 9h0m200 15h0m424-3h0m11-6h0m53 10h0m16 0h0m-889 32h0m15-5h0m81 13h0m60-17h0m123 11h0m22 0h0m1 3h0m82-34h0m405 19h0m12 18h0m6-12h0m-766 24h0m9 2h0m35 26h0m19-30h0m690-8h0m-675 48h0m6 18h0m12 7h0m12-14h0m2 8h0m2-3h0m1 11h0m12-14h0m6-14h0m695 11h0m-31 47h0m4 2h0m-263 19h0m127 11h0m2 22h0m22 0h0m-40 9h0m68 2h0m13 7h0m8 0h0"/>
<path stroke="#6b1d81" d="M1212 915h0m33 16h0"/>
<path stroke="#de4968" d="M1923 334h0m-677 40h0m9 4h0m-472 126h0m476 111h0m82-11h0m89-3h0m0 3h0m409 42h0m-235 37h0m271-9h0m262-2h0m24 7h0m-1745 23h0m14 21h0m164-22h0m20 9h0m10 7h0m66 6h0m792-4h0m398 1h0m6-5h0m-1480 57h0m37-2h0m12 5h0m160-6h0m5-3h0m51-19h0m868 1h0m-1109 67h0m123-13h0m10 1h0m281-17h0m4 33h0m-430 15h0m73 10h0m192 7h0m704 8h0m-719 24h0m78-16h0m563 3h0m23 4h0m-328 58h0m-303 41h0m124-7h0m164-24h0m579 29h0m22 7h0m5-26h0m-175 59h0m112 7h0m44-9h0m-261 38h0m32-20h0m843 77h0m10-2h0m40 22h0m-1422 128h0m163-8h0m561-12h0m110 22h0m-480 10h0m50-3h0m429 36h0m-700 68h0m57-5h0m390 59h0m18 5h0m124 71h0"/>
<path stroke="#140e36" d="M1196 247h0m5-2h0m36 14h0m-81 24h0m20 15h0m1-13h0m17 3h0m3-7h0m32 18h0m17-20h0m35 7h0m-93 26h0m41 7h0m37 0h0m34 13h0m7-12h0m40 7h0m-199 22h0m34 27h0m21-32h0m41 10h0m0 25h0m1-22h0m14 5h0m3 16h0m13 0h0m10-4h0m24-19h0m19 0h0m0-4h0m596 11h0m8-10h0m-774 61h0m69 3h0m1-17h0m27 3h0m41-5h0m52-2h0m-681 84h0m4 2h0m519-17h0m3-1h0m174 75h0m-44 29h0m7 4h0m78 5h0m40-34h0m35 25h0m-193 47h0m55 0h0m75 0h0m91-19h0m168 15h0m275 6h0m8-6h0m118-29h0m41 17h0m35 10h0m-780 34h0m38-20h0m48 18h0m20 17h0m24-6h0m2 7h0m67-28h0m158-5h0m1 0h0m81 0h0m-1362 58h0m26-8h0m5 15h0m857-16h0m22-1h0m5 5h0m9-10h0m0 28h0m23-20h0m125 1h0m61 3h0m15-15h0m12 20h0m217-22h0m-1385 69h0m4 1h0m8-15h0m21-6h0m20 24h0m60-19h0m24-5h0m17-5h0m54 7h0m60 5h0m23-1h0m727 3h0m2-4h0m109 16h0m16-28h0m-1176 57h0m38 5h0m41-24h0m92 5h0m90 10h0m136 19h0m-339 38h0m26-20h0m29 1h0m38 10h0m251 8h0m36 4h0m-389 18h0m64 7h0m10-21h0m16 17h0m14-2h0m132-1h0m51-1h0m99-4h0m24 0h0m-441 59h0m90-21h0m58 18h0m331 31h0m59 18h0m266-7h0m-296 15h0m99 33h0m110-29h0m-153 51h0m7-15h0m42 7h0m12 15h0m19 13h0m320-19h0m-201 21h0m10 1h0m1009 94h0m12 13h0m58-13h0m-1494 99h0m6-7h0m6-25h0m77 35h0m669-4h0m-746 20h0m9 10h0m4 3h0m87-18h0m100 7h0m8 2h0m7 9h0m4 5h0m119 2h0m389-32h0m-680 54h0m149-15h0m20 3h0m588 33h0m-710 36h0m652-17h0m-570 40h0"/>
<path stroke="#fe9f6d" d="M1499 979h0m78 18h0m-237 34h0"/>
<path stroke="#1a1042" d="M1936 323h0m11 3h0m-40 42h0m43-24h0m22 12h0m-911 78h0m4 2h0m10 7h0m8 3h0m1065 166h0m5 1h0m1-5h0m-57 46h0m59-33h0m-273 55h0m115 11h0m-1174 32h0m16 5h0m6-1h0m42 16h0m773-34h0m164 5h0m6 0h0m2 30h0m20-26h0m52 22h0m-102 11h0m6 0h0m-945 106h0m407-21h0m-569 51h0m42-6h0m635 22h0m-790 17h0m18-5h0m33-7h0m134 32h0m81-14h0m-213 52h0m41-8h0m25-6h0m23-14h0m9 19h0m87 8h0m577-4h0m198-20h0m-932 51h0m16 4h0m6 0h0m8 16h0m10-29h0m91 1h0m577 8h0m100-4h0m1-11h0m81 29h0m5 0h0m-866 8h0m29 12h0m555 19h0m150 147h0m-237 78h0m10 7h0m7-21h0m2 4h0m10 21h0m3-17h0m9-7h0m5-3h0m0 2h0m224 29h0m21 5h0m-524 6h0m57 16h0m473-20h0m26 10h0m82 26h0m-586 14h0m563 17h0m57 7h0m60-23h0m-14 63h0m-272 12h0m11 2h0m30 5h0m66 19h0m33-10h0m11-7h0m39 1h0m31 10h0m31-15h0m13-7h0m1 20h0m-172 40h0m23-19h0m34 15h0m8-18h0m50 7h0m10-3h0m4 25h0m0-2h0m9-15h0m2 5h0m3-6h0m9-1h0"/>
<path stroke="#000004" d="M1157 254h0m18-5h0m8-1h0m32-1h0m-62 24h0m25 13h0m1-19h0m6 18h0m3-21h0m6 16h0m1-7h0m3 10h0m23 0h0m7 8h0m7-11h0m3-13h0m12 24h0m4-24h0m11 6h0m5 28h0m-124 7h0m43 31h0m2-26h0m5 7h0m23-5h0m8-5h0m40-8h0m16 17h0m56 18h0m11-9h0m573 11h0m6-8h0m15-6h0m3 10h0m6-10h0m4-7h0m1 20h0m19 2h0m10 0h0m-802 31h0m4-25h0m30 26h0m5-6h0m5 2h0m19-17h0m28 24h0m1 4h0m12-4h0m4-5h0m21-25h0m4 19h0m2-13h0m9 15h0m3-9h0m570 22h0m3 1h0m1 0h0m1-11h0m1-1h0m8 7h0m21-33h0m0 2h0m15 12h0m11 4h0m14-11h0m-869 71h0m24-23h0m2-7h0m60 17h0m12-23h0m26 30h0m14-20h0m25-7h0m4 9h0m7 3h0m23-11h0m7-5h0m1 28h0m1-29h0m18 0h0m13 4h0m-284 44h0m5 5h0m0 6h0m6-17h0m3 11h0m4-4h0m1 8h0m1-1h0m46 3h0m10-8h0m6 23h0m263-22h0m-753 40h0m4 5h0m5-1h0m1 0h0m1 3h0m2-1h0m96-15h0m55 23h0m6 2h0m319-26h0m81 0h0m205-1h0m-103 74h0m27-5h0m6 0h0m23-4h0m10-2h0m-606 20h0m491 34h0m26-18h0m4 20h0m30-2h0m4 1h0m4-17h0m6-19h0m14-1h0m2-2h0m3 3h0m5 24h0m6 9h0m9-33h0m6 11h0m2 10h0m1-14h0m3 1h0m4-1h0m0 6h0m3-8h0m15-4h0m12 24h0m2 10h0m5-6h0m5 3h0m18-3h0m2-15h0m-202 33h0m5 7h0m0-16h0m6 18h0m5 6h0m0-6h0m5-14h0m2 11h0m15 16h0m1-30h0m9 13h0m2 14h0m2 9h0m4-28h0m11 18h0m0-17h0m5 6h0m2-14h0m2 32h0m8-29h0m3 8h0m12 11h0m14 8h0m10-30h0m1 10h0m2-10h0m7 9h0m2-6h0m2 9h0m24 2h0m7-7h0m10 6h0m3 18h0m8 0h0m14-20h0m0 12h0m2-5h0m2-10h0m10-4h0m6 22h0m3-28h0m5 16h0m24 15h0m7 1h0m4 6h0m3-36h0m78 29h0m1-7h0m10-3h0m1 3h0m7 12h0m1-5h0m35 1h0m24-1h0m0 7h0m39 0h0m16-10h0m28-5h0m33 7h0m8-5h0m13 7h0m0 4h0m2 1h0m27-6h0m56 3h0m13-6h0m5 1h0m9-5h0m5 3h0m5 2h0m13 2h0m10-7h0m2 10h0m0-1h0m7-12h0m10-2h0m10 4h0m14-15h0m1 8h0m4 1h0m7-3h0m6 9h0m8-14h0m1-5h0m5 3h0m13 4h0m2-9h0m1 19h0m6-8h0m13 1h0m2 6h0m12 12h0m15-23h0m11-1h0m1 11h0m2 0h0m17-12h0m0 7h0m4 3h0m0 18h0m4-9h0m6-6h0m3 18h0m-902 11h0m14 10h0m2 4h0m1 3h0m0 3h0m7-15h0m25-2h0m4 5h0m4-2h0m17 7h0m12-8h0m1 12h0m22 1h0m8-7h0m8-21h0m25 4h0m4 9h0m20 0h0m8 24h0m1-31h0m2 14h0m16 2h0m5-10h0m29 24h0m10-9h0m11 4h0m2-31h0m2 1h0m5 14h0m8 24h0m2 0h0m9-6h0m4-24h0m7 12h0m14 13h0m4-24h0m12 10h0m0-17h0m4 7h0m3 3h0m2 18h0m9 2h0m20-32h0m3 7h0m14 0h0m7 12h0m16-6h0m0 10h0m5-5h0m5 3h0m15-1h0m8-14h0m13-7h0m0 2h0m2 21h0m7 15h0m3-34h0m6 35h0m6 1h0m13-24h0m8-3h0m1-13h0m11 23h0m17-9h0m14 1h0m21 2h0m57-2h0m2 18h0m19-30h0m16-1h0m25 3h0m10-1h0m3-3h0m10 10h0m43 27h0m47-4h0m8-30h0m15 22h0m1-10h0m1-6h0m4 27h0m14-34h0m2 15h0m8 12h0m8 9h0m0-2h0m1-2h0m10-4h0m-1712 44h0m34 2h0m20-12h0m11-2h0m2-2h0m9 0h0m22 0h0m15 10h0m109 2h0m17 3h0m15-17h0m31 4h0m636-21h0m3 12h0m21 7h0m14-6h0m6 12h0m6-18h0m15 8h0m9 6h0m2 14h0m1-34h0m2 18h0m19-5h0m3 2h0m1-16h0m12 19h0m2 10h0m2 0h0m13-1h0m0-24h0m11 28h0m2-21h0m13-5h0m5 25h0m4-14h0m1 18h0m0-30h0m1 23h0m5 7h0m12-29h0m15 22h0m23-1h0m5-6h0m5-3h0m23-9h0m6-10h0m2 2h0m3 20h0m4 14h0m4-20h0m3-6h0m2 21h0m2-26h0m3 24h0m4-26h0m3-3h0m32 0h0m17 13h0m38-7h0m107-6h0m23 21h0m0-4h0m22-1h0m15 1h0m4-4h0m22 6h0m2 2h0m13 9h0m20-29h0m10 21h0m20 12h0m1-3h0m10-7h0m13-15h0m7 6h0m16-7h0m45 0h0m5-2h0m47-4h0m15 7h0m2-7h0m13 13h0m10 11h0m22-3h0m8 8h0m1 2h0m-1782 21h0m11 23h0m15-13h0m3 2h0m12 3h0m34 1h0m57-2h0m50 11h0m0-37h0m8 25h0m8 5h0m11-15h0m3-2h0m5-3h0m11 11h0m2-24h0m4 34h0m11-30h0m46 6h0m30 5h0m32 25h0m96-17h0m541-20h0m17 10h0m18 2h0m30-7h0m6 9h0m2 8h0m6-3h0m13-13h0m11 22h0m5 7h0m2-8h0m25 7h0m6-34h0m5 29h0m12-14h0m8-1h0m4 17h0m4-20h0m27-4h0m10 13h0m1-12h0m150 1h0m7-3h0m15 4h0m3-1h0m13 0h0m0-1h0m9 3h0m12-8h0m12 5h0m5-1h0m0 1h0m29 14h0m31-2h0m5 10h0m9-5h0m63-26h0m-1561 67h0m3 8h0m12-23h0m4 19h0m6-13h0m5 14h0m20-6h0m19 8h0m1-30h0m39 29h0m2-4h0m14 2h0m5-17h0m8 14h0m0-24h0m10 10h0m27 19h0m4-30h0m21-3h0m3 35h0m3-1h0m17-14h0m1-3h0m38-14h0m4 9h0m74-12h0m13-1h0m8 21h0m3-16h0m12 9h0m11 2h0m13 18h0m92-32h0m931 5h0m10-3h0m-1445 37h0m30 8h0m1-3h0m3 20h0m5-9h0m28 8h0m6 4h0m29-12h0m19 13h0m1-28h0m7 1h0m6-2h0m14 36h0m2-15h0m5-15h0m78 29h0m68-18h0m25-6h0m131 18h0m2 3h0m4 2h0m3 2h0m53 2h0m-507 23h0m7-4h0m21-9h0m5 5h0m39 2h0m5 11h0m7-13h0m16 18h0m28-30h0m2 15h0m16 6h0m9 2h0m1-7h0m14 19h0m1 1h0m5-3h0m6-27h0m1 13h0m92-5h0m60 18h0m83-18h0m3-8h0m2 2h0m7-5h0m1 3h0m74-7h0m353 5h0m9 3h0m10 5h0m8 11h0m9 8h0m-853 41h0m16 4h0m13-2h0m4-36h0m6 27h0m8-15h0m18 0h0m61 9h0m14-11h0m15-8h0m9 5h0m39-3h0m16 12h0m35 14h0m32-21h0m2 4h0m14-14h0m114 4h0m8 5h0m450 12h0m3-10h0m75 3h0m-911 33h0m18 0h0m20 15h0m25-2h0m38-14h0m4 14h0m8-18h0m5 5h0m4 2h0m37 1h0m17-5h0m51 33h0m14-6h0m145-25h0m10 6h0m4-5h0m7 3h0m17 0h0m4 9h0m4 0h0m23 3h0m0-7h0m2 0h0m8 0h0m14 3h0m7 1h0m1 11h0m0-11h0m6 5h0m2 7h0m49 2h0m23 3h0m5-2h0m7 4h0m3-2h0m11 0h0m-475 7h0m18 11h0m1-6h0m17 16h0m2-5h0m23 12h0m5-5h0m0 11h0m9-2h0m7-14h0m2 9h0m5-3h0m28-15h0m14 3h0m3 13h0m77-20h0m28-5h0m4 3h0m3-5h0m112 8h0m31 27h0m2-13h0m4-7h0m5 19h0m34-32h0m29 17h0m7-17h0m34 5h0m14-4h0m8 24h0m14-15h0m7 19h0m1-26h0m10 7h0m5-3h0m2 6h0m12-8h0m11 6h0m18-6h0m260 21h0m112-15h0m-903 53h0m3 3h0m5-29h0m6 29h0m5-7h0m2 0h0m2 1h0m89-12h0m6-4h0m166 27h0m5-2h0m34-31h0m1 7h0m23 22h0m9-3h0m16 0h0m7 2h0m2-19h0m4 12h0m2 8h0m8-15h0m7 20h0m3-17h0m10-7h0m429-1h0m4-4h0m9 18h0m19 12h0m7-24h0m-872 47h0m1-13h0m27 16h0m12-5h0m328-18h0m4 1h0m10 3h0m113-4h0m10 0h0m0 0h0m5-1h0m88 5h0m929 72h0m-107 11h0m22 3h0m53-9h0m7 1h0m5 24h0m4-13h0m1-10h0m2 12h0m0-12h0m2 1h0m0 10h0m8 16h0m2 4h0m5 3h0m2-13h0m2 10h0m4-6h0m4-26h0m1 21h0m0-12h0m11 14h0m0-17h0m9 5h0m2 14h0m0-12h0m2-4h0m22 2h0m11 4h0m-1491 60h0m0-6h0m15 8h0m1-11h0m5-5h0m669 1h0m1 4h0m4 0h0m0 1h0m3-5h0m4 5h0m710-29h0m-1424 65h0m1-18h0m5 3h0m1 21h0m8 1h0m1 2h0m1-25h0m10-6h0m612 18h0m35-9h0m9-4h0m1 0h0m-684 38h0m5-4h0m2 6h0m2 6h0m4 6h0m2 8h0m2-26h0m6 19h0m0-13h0m3 19h0m1 0h0m2-6h0m1 13h0m0-6h0m2-13h0m2 9h0m3 6h0m11 8h0m133-13h0m9 7h0m4-7h0m1 10h0m5-9h0m2-3h0m10-3h0m1 1h0m6-7h0m1-2h0m0 5h0m5 19h0m3-29h0m1 15h0m4 9h0m97-1h0m117 2h0m7 6h0m5 0h0m288-33h0m27 23h0m54 9h0m13-3h0m4-5h0m11 0h0m4-1h0m4 6h0m19 3h0m3-4h0m14 0h0m25-2h0m14 0h0m7 0h0m-917 12h0m3 4h0m10-1h0m4 22h0m1-18h0m2 21h0m3-24h0m5 2h0m1 2h0m4 13h0m1-7h0m1 10h0m0-8h0m5 18h0m2-13h0m9 5h0m6 4h0m9-4h0m3-10h0m14-3h0m39 12h0m16-25h0m5-3h0m52 2h0m2 7h0m2 5h0m1 2h0m64 23h0m30-9h0m18 0h0m31 0h0m8-4h0m5 1h0m14-5h0m1-8h0m4 1h0m1-4h0m4 5h0m2 7h0m1-14h0m1 12h0m2-5h0m1 6h0m1 5h0m1-25h0m0 10h0m1-2h0m0 10h0m3-14h0m4 18h0m2-11h0m0-9h0m3 18h0m1-17h0m6-1h0m2 18h0m1-23h0m4 23h0m3-8h0m4-4h0m6 1h0m1-2h0m3 0h0m0-4h0m6 4h0m216 27h0m12-2h0m10-1h0m41-5h0m46 7h0m2-2h0m5-24h0m12 7h0m4 10h0m10 4h0m4 3h0m2-2h0m2-24h0m2 11h0m0 19h0m2 0h0m1-3h0m6-2h0m3-20h0m4 17h0m13-19h0m0 29h0m1-37h0m11 21h0m7-13h0m18-8h0m0 18h0m29-20h0m-860 46h0m13 5h0m16 2h0m5 13h0m1 7h0m12 3h0m3-1h0m3-10h0m8 7h0m5 6h0m4 0h0m6-21h0m2-6h0m1-10h0m4 10h0m25-12h0m2 6h0m37 8h0m4-8h0m6 3h0m1 9h0m0 13h0m9-17h0m477-12h0m2-1h0m14 0h0m12 9h0m0-5h0m37 4h0m22 31h0m3-37h0m4-1h0m30 1h0m19 5h0m2 3h0m3 25h0m1 2h0m4-36h0m1 34h0m-738 10h0m8 2h0m2 8h0m10-7h0m10 14h0m0-8h0m15 18h0m1-9h0m1 5h0m2-5h0m2 2h0m8-6h0m4-18h0m1 27h0m12-12h0m10 16h0m3-21h0m1 13h0m4-1h0m6-8h0m4-9h0m537 18h0m0-3h0m2 8h0m11-3h0m11-3h0m2-8h0m0 6h0m27 5h0m16-11h0m2 8h0m19-16h0m19-2h0m5 11h0m9-2h0m1-3h0m1 5h0m3 13h0m2-11h0m1 18h0m6-26h0m0-2h0m0 4h0m8 4h0m-1171 50h0m6 1h0m8-8h0m0 10h0m2-4h0m11 0h0m2-5h0m4-5h0m8 0h0m961 24h0m8-4h0m19-20h0m8 11h0m5-4h0m24-21h0m4 8h0m11-6h0m9-1h0m0 8h0m0 6h0m1 23h0m7-36h0m33 7h0m6 7h0m1 17h0m1-4h0m0-26h0m1 24h0m14 5h0m3 5h0m3-15h0m5 6h0m1 6h0m-314 5h0m16 8h0m20-2h0m1-4h0m63 14h0m7-8h0m19 18h0m1-23h0m10 23h0m0-3h0m7-24h0m0 2h0m1-1h0m3 6h0m4 15h0m2 6h0m4 3h0m1-22h0m0 30h0m1-27h0m5-3h0m2 28h0m1-28h0m5 14h0m4 16h0m1-25h0m0 12h0m4-17h0m0-6h0m7 28h0m4 4h0m8-19h0m2-7h0m3-3h0m1 14h0m3 13h0m1-32h0m4 26h0m2 4h0m3-23h0m2 19h0m2 11h0m9 1h0m2-31h0m3 14h0m2 2h0m4-17h0m3 20h0m0-4h0m5 1h0m3 8h0m2-7h0m4 13h0m3-21h0m11 13h0m1 5h0m3-12h0m1 16h0m2-30h0m7-3h0m0 14h0m1 0h0m9-14h0m-184 39h0m9 15h0m4-8h0m6 5h0m1-7h0m1 1h0m0 19h0m2-28h0m10 25h0m7-16h0m3 15h0m7-11h0m8 2h0m8-7h0m0 26h0m3-23h0m3 0h0m1-11h0m3 17h0m2-14h0m2 2h0m2 12h0m9 15h0m1-21h0m2 19h0m0-22h0m1-1h0m5 3h0m2-7h0m3 28h0m1-7h0m0-6h0m0-14h0m1 12h0m4 8h0m3-11h0m2 13h0m4-16h0m1 17h0m5-1h0m1-2h0m4-15h0m3 20h0m3-1h0m17-27h0m3 11h0"/>
<path stroke="#51127c" d="M1176 247h0m25 4h0m-34 10h0m24 18h0m16-2h0m1 4h0m5 8h0m24-16h0m67 19h0m-145 37h0m4-6h0m72 2h0m12 11h0m47-7h0m2-23h0m11 2h0m8-7h0m9 13h0m3 24h0m-67 31h0m27-2h0m15 5h0m5-3h0m55-1h0m-217 30h0m17 3h0m33 13h0m28-3h0m25-2h0m15-2h0m10-11h0m17-10h0m1 2h0m12 0h0m10 19h0m1-4h0m41-23h0m-228 49h0m23 29h0m231-19h0m-605 62h0m586 19h0m20 8h0m21-2h0m-618 28h0m513 20h0m78-12h0m9 2h0m5-3h0m34 4h0m52-7h0m-203 28h0m13 18h0m9-15h0m2 18h0m32-16h0m5 23h0m34-23h0m29-2h0m1-6h0m30 5h0m32 14h0m5-14h0m13 17h0m2 13h0m47 1h0m105-5h0m67 0h0m32-1h0m16-10h0m4 8h0m9-9h0m26 4h0m48 11h0m24-1h0m62-5h0m19-1h0m17 9h0m8-19h0m8 8h0m14-7h0m11-7h0m4-3h0m13 10h0m43-8h0m3-9h0m38 3h0m16 7h0m2 3h0m6 3h0m2 3h0m17-4h0m20-4h0m-880 53h0m41-21h0m59-2h0m34 14h0m3-7h0m34-7h0m4 6h0m10 0h0m13 12h0m8 0h0m4-22h0m12 10h0m11 5h0m39-1h0m11 24h0m5-34h0m6 13h0m23 22h0m31-37h0m10 4h0m9 5h0m43 12h0m11-13h0m14-7h0m11 16h0m7-10h0m44 6h0m26 18h0m36 6h0m15-1h0m46-36h0m-1439 64h0m8-10h0m33-2h0m31 17h0m155-12h0m639-12h0m17-1h0m12 0h0m20 27h0m21-7h0m4-27h0m33 34h0m7-25h0m89 22h0m0 1h0m6-25h0m19 17h0m6-7h0m27-14h0m30 1h0m9 6h0m204-10h0m32 4h0m11 1h0m-1455 63h0m18-18h0m39-2h0m98 0h0m8 1h0m2-7h0m85 0h0m5 4h0m12 11h0m32 15h0m12 3h0m35-2h0m706-19h0m10 1h0m47 14h0m11-23h0m3 12h0m8 3h0m6-2h0m8-6h0m36 14h0m13-9h0m-1180 53h0m1 4h0m19-19h0m38 9h0m1-8h0m16 3h0m14-2h0m10 12h0m37-10h0m85-17h0m48 5h0m39-2h0m24 23h0m3-10h0m1-12h0m-380 43h0m81 4h0m16 1h0m2 7h0m24-4h0m77-10h0m10 8h0m23-11h0m25 26h0m0-7h0m163-18h0m-410 34h0m1 37h0m18-21h0m2 24h0m4-22h0m12-12h0m8 24h0m13-12h0m9-13h0m10 35h0m11-35h0m1 14h0m16-11h0m23 18h0m40-4h0m108 11h0m13-10h0m129-15h0m41 9h0m-403 37h0m26-8h0m8 20h0m2-14h0m62-5h0m61-6h0m27 26h0m26-6h0m5 14h0m-200 12h0m58 3h0m100-2h0m8-6h0m228 36h0m31-30h0m2 9h0m24 21h0m18-22h0m1 6h0m298 17h0m-412 22h0m150 13h0m3-20h0m35 2h0m47 2h0m16-6h0m5-4h0m16 27h0m56-11h0m13-4h0m39-10h0m-174 44h0m29-4h0m91 18h0m222 8h0m121-4h0m-462 10h0m17-1h0m14 0h0m170 6h0m37 5h0m839 77h0m88-1h0m2 16h0m8-5h0m6-4h0m7 20h0m13-10h0m26-6h0m-1468 57h0m14-14h0m6 4h0m4 2h0m0 8h0m-28 16h0m11-11h0m-6 51h0m7 2h0m0 6h0m9-5h0m167 14h0m5-7h0m5-9h0m6 14h0m5 12h0m3-27h0m12 27h0m650-13h0m1 2h0m49 12h0m-867 20h0m27 15h0m22-31h0m685 23h0m14-1h0m80 6h0m61-32h0m-829 67h0m8 11h0m658-33h0m97-4h0m-699 59h0m20 2h0m8 9h0m0 2h0m1 2h0m2 3h0"/>
<path stroke="#8c2981" d="M1131 404h0m-372 52h0m511-31h0m-557 65h0m805 76h0m82 28h0m-290 237h0m48 41h0m-530 98h0m117-11h0m240 43h0m293 9h0m52 5h0m-304 10h0m96-5h0m784 91h0m20-2h0m-585 109h0m-416 33h0m130 38h0m313-26h0m12 6h0"/>
<path stroke="#331067" d="M1923 337h0m26 1h0m3-15h0m6 3h0m-14 16h0m3 11h0m15-5h0m11 5h0m4 4h0m-896 94h0m1086 168h0m-7 2h0m15 0h0m7 0h0m-347 69h0m27 0h0m56-4h0m54-5h0m16-5h0m143-16h0m16 24h0m2-7h0m-1325 43h0m954-12h0m77 11h0m3-13h0m8-4h0m4 3h0m2 11h0m13-5h0m61 0h0m-155 48h0m2-7h0m-1093 141h0m11-10h0m156-11h0m438-1h0m32 4h0m56-14h0m-836 67h0m12-10h0m16 4h0m45-16h0m120 8h0m13 23h0m101-21h0m-235 39h0m30 19h0m51-7h0m24-21h0m424 19h0m336-6h0m72-9h0m52 10h0m-939 43h0m6-3h0m1 7h0m17-21h0m0 31h0m33-11h0m76-24h0m706-2h0m30 5h0m14 16h0m55-19h0m-925 55h0m25 5h0m29-9h0m531 21h0m30-14h0m14 3h0m11-2h0m1-1h0m224-20h0m-623 272h0m25-16h0m171 10h0m338 14h0m-472 40h0m7-19h0m515-12h0m158 30h0m-113 6h0m10 16h0m35 1h0m72-4h0m10 1h0m4-4h0m10 0h0m-28 53h0m-233 16h0m49 7h0m16-9h0m4 16h0m18 13h0m56-10h0m1-8h0m27 20h0m2-17h0m8-3h0m-117 37h0m25 7h0m1 2h0m12-14h0m11 21h0m4-8h0m61-4h0m1-9h0m49 0h0"/>
<path stroke="#b73779" d="M1306 314h0m643 16h0m3 0h0m-46 46h0m44-22h0m-784 27h0m147 198h0m108-24h0m-35 42h0m299 22h0m32 1h0m10-15h0m232-4h0m27 11h0m62-30h0m103 37h0m-290 3h0m-1217 77h0m31-27h0m850 9h0m82-7h0m-1127 56h0m13-21h0m92-5h0m52 26h0m29-27h0m774-2h0m-668 49h0m1052-7h0m-1256 76h0m237-32h0m21 14h0m-411 43h0m159-5h0m11-19h0m723 36h0m-689 26h0m43 5h0m14 7h0m654-16h0m19 13h0m-373 38h0m55 8h0m-12 27h0m85 4h0m282 7h0m57-7h0m25-1h0m66-13h0m29 26h0m17-1h0m10-6h0m20-17h0m-597 48h0m19-5h0m382-16h0m114 32h0m21-19h0m-260 54h0m336 209h0m-805 3h0m16 8h0m67 56h0m40 21h0m27 21h0m19 6h0m3-25h0m2 16h0m3 11h0"/>
<path stroke="#251255" d="M1124 297h0m53-34h0m26 36h0m30-12h0m33 10h0m6-18h0m-126 56h0m101 4h0m20-27h0m29 4h0m3-10h0m-139 70h0m28-16h0m28-16h0m19 35h0m16-9h0m8-3h0m5 10h0m50-2h0m21-22h0m15 2h0m13 9h0m-176 43h0m13-6h0m47 10h0m31 3h0m1-31h0m25 23h0m6-11h0m-171 29h0m25 38h0m1 6h0m48 3h0m0-1h0m2-4h0m6-2h0m143 64h0m-90 49h0m56-6h0m11-12h0m43-2h0m34 22h0m10-30h0m-17 39h0m22 5h0m9-2h0m168 9h0m18 15h0m117-1h0m87-6h0m-536 40h0m11-13h0m8 19h0m54-14h0m109-14h0m76 24h0m20 6h0m0-25h0m44-9h0m140 8h0m2-5h0m45-3h0m30 4h0m13 16h0m-1365 35h0m7 6h0m889-1h0m1-7h0m49 18h0m26-14h0m108-8h0m106 2h0m-1262 43h0m8 21h0m52-18h0m45 7h0m3-5h0m4-11h0m9-10h0m8 4h0m4 23h0m1-6h0m59 6h0m79-25h0m26 13h0m0-11h0m10 17h0m9-14h0m746 16h0m12 8h0m7 4h0m14-26h0m-1100 63h0m36 2h0m18 2h0m54-7h0m13 1h0m9 8h0m76-32h0m20 0h0m18 31h0m113-34h0m17 26h0m41 42h0m17 3h0m-420 40h0m42-2h0m12-7h0m40 14h0m72-31h0m9 13h0m33-20h0m6 16h0m3-14h0m15 15h0m68 17h0m129-29h0m39-3h0m-455 54h0m17 17h0m23-22h0m65 2h0m30 25h0m52-27h0m107-3h0m149 24h0m-347 16h0m122-5h0m283 7h0m103 58h0m40-23h0m22 21h0m-93 47h0m19 6h0m1-31h0m54-2h0m16 4h0m21 23h0m34-6h0m1059 104h0m5 25h0m14-32h0m27 20h0m-1443 52h0m-9 53h0m5 14h0m8-5h0m171 9h0m704 7h0m-845 28h0m172-20h0m626 28h0m3 3h0m11-25h0m3 0h0m34 7h0m-798 51h0m73 29h0m1-2h0m2 14h0m11-3h0m7-2h0m3 0h0"/>
<path stroke="#090720" d="M1193 250h0m25-2h0m-28 41h0m34-25h0m10 34h0m12-22h0m8 12h0m20 6h0m-119 41h0m22-12h0m65-13h0m9 0h0m6 20h0m19-16h0m14-13h0m21 3h0m631 20h0m27 15h0m-821 6h0m46 8h0m27-4h0m17 24h0m3-29h0m8 20h0m2-11h0m21 14h0m28 2h0m7 9h0m14-25h0m2 20h0m3-15h0m23 10h0m566 0h0m62-16h0m-773 34h0m51 11h0m10-8h0m30-5h0m4 23h0m8 0h0m4-13h0m5-12h0m6 18h0m14-15h0m9 13h0m-284 28h0m23 23h0m59-26h0m282 29h0m-255 8h0m8 0h0m261 11h0m130 113h0m589 30h0m-40 33h0m-247 42h0m10 7h0m246-22h0m-507 40h0m49 1h0m103-6h0m-398 150h0m-655 21h0m603-6h0m-760 48h0m73 18h0m7-31h0m-4 55h0m56-6h0m14 9h0m3 7h0m81 5h0m36-5h0m331-10h0m-488 25h0m129 9h0m-99 35h0m4 8h0m3 15h0m50-36h0m711 171h0m-253 68h0m-15 24h0m12-22h0m390 82h0m-3 62h0m52-3h0m-220 30h0m74-3h0m8-7h0m31 8h0m26-3h0m10 14h0m21-10h0m12 19h0m54 0h0m-175 28h0m3-13h0m10 19h0m37 8h0m3-24h0m5 12h0m10-3h0m27 16h0m45-13h0m2 10h0m12-27h0"/>
<path stroke="#641a80" d="M1156 251h0m23-2h0m13 10h0m-50 10h0m13-8h0m19 7h0m45 27h0m16-14h0m-98 21h0m68 22h0m62-14h0m13 2h0m1 16h0m29 9h0m19 1h0m596-9h0m19-12h0m7 15h0m2-13h0m35 16h0m-718 8h0m16 11h0m20 23h0m8-30h0m1 5h0m596 16h0m45-15h0m-749 52h0m39-16h0m4 0h0m40 19h0m9-4h0m2-21h0m17 21h0m21-19h0m-257 56h0m15-9h0m313 2h0m-209 38h0m145 58h0m27-9h0m-88 56h0m16-18h0m26 9h0m5 7h0m1-13h0m58-14h0m1 8h0m11 9h0m7-24h0m-135 45h0m11 19h0m47-7h0m9-17h0m16 16h0m21-15h0m6 11h0m28 1h0m0-12h0m1 12h0m8 6h0m19-1h0m43 6h0m6-8h0m29 13h0m92-5h0m73-4h0m55 12h0m35-8h0m73 6h0m94 1h0m16-10h0m5 12h0m2-13h0m21 6h0m19-8h0m4-5h0m24 1h0m22 1h0m33 3h0m3 1h0m73 10h0m-883 29h0m19-4h0m34-6h0m11-5h0m15 30h0m70-25h0m20 3h0m13 11h0m7-18h0m2-4h0m10 32h0m36-12h0m9 15h0m88-34h0m8 6h0m14 25h0m8-30h0m58 36h0m29-37h0m28 9h0m15 21h0m8-24h0m15 21h0m11-4h0m17-14h0m57 22h0m30-24h0m13-9h0m16 6h0m8-1h0m74 28h0m46-17h0m16-10h0m37 21h0m-1590 45h0m149-27h0m681 3h0m9 2h0m31 20h0m12-17h0m0-7h0m5 7h0m36 14h0m19 5h0m0-7h0m59 5h0m19 5h0m52-26h0m20-9h0m48 1h0m176 17h0m41 2h0m80 11h0m-1559 40h0m20-14h0m48 10h0m39 2h0m2 10h0m13-24h0m18 13h0m19-26h0m26-1h0m19 30h0m21-15h0m10 3h0m29 20h0m67-23h0m98 3h0m560-9h0m5-8h0m89-1h0m92 29h0m168-21h0m12 2h0m27 0h0m-1393 52h0m90-4h0m6 10h0m3-13h0m100 9h0m9-23h0m45 28h0m25-19h0m4 27h0m100-23h0m14 15h0m16 3h0m1016-33h0m-1330 69h0m74-21h0m2 31h0m17-15h0m59 2h0m40-22h0m16 31h0m38-8h0m2-7h0m71 9h0m21 6h0m-408 7h0m53 8h0m4 13h0m0-18h0m34 7h0m69 8h0m10 9h0m60-12h0m40-4h0m134 2h0m14-10h0m17-5h0m13 3h0m401 9h0m99 27h0m-955 13h0m27-2h0m21 26h0m6 0h0m11-33h0m22 27h0m12-29h0m2 22h0m14-9h0m14-13h0m1 33h0m44-31h0m23 27h0m15 1h0m5-21h0m5 9h0m4 7h0m656-24h0m3 3h0m10 6h0m2 2h0m11 9h0m3-1h0m25 13h0m28 2h0m-866 7h0m64 14h0m25-4h0m21-5h0m88 28h0m1-3h0m172-13h0m6 10h0m44-15h0m17 13h0m22 2h0m44-2h0m98 12h0m-442 38h0m9-5h0m29-23h0m20 6h0m34-4h0m88-11h0m141 2h0m30 32h0m10-11h0m28-21h0m26 8h0m9 28h0m64-22h0m3 0h0m227 14h0m153-24h0m48 15h0m9-2h0m15 9h0m-953 33h0m26-18h0m79 26h0m223-5h0m3-19h0m19 5h0m20-4h0m4 14h0m18-16h0m83 26h0m367-11h0m10-8h0m9 22h0m3-12h0m8 18h0m26-38h0m2 7h0m5 14h0m-838 36h0m561 16h0m27-11h0m10-14h0m881 80h0m4 8h0m11-16h0m6 8h0m9 15h0m12-10h0m-1433 55h0m-34 59h0m17-3h0m21 27h0m3-1h0m159-15h0m5-11h0m5 6h0m16 2h0m604 23h0m50 1h0m-832 23h0m23 3h0m12 11h0m238-1h0m14 4h0m44-16h0m6 8h0m29-26h0m22 19h0m33-22h0m214 33h0m111 1h0m25-17h0m32-4h0m7-4h0m9 24h0m4-26h0m5 4h0m51-5h0m-839 33h0m7 24h0m10-14h0m19 13h0m3 6h0m97-18h0m593 23h0m-667 22h0m15 12h0m30-3h0m5 12h0m627-14h0m-53 29h0m113 19h0m-268 18h0m73 4h0m37 1h0m58-9h0m20 30h0m25-10h0m47 12h0m17-28h0m-171 43h0m3 0h0m45 25h0m13-32h0"/>
<path stroke="#3b0f70" d="M1206 252h0m32 4h0m-109 36h0m18-12h0m13-12h0m25 5h0m24 10h0m1-2h0m22-11h0m1 12h0m41 2h0m1 6h0m2 0h0m8-1h0m30 10h0m-167 10h0m16 22h0m25-26h0m1 19h0m54 12h0m1 4h0m2-10h0m31-21h0m2 17h0m44 12h0m-48 3h0m15 21h0m18-4h0m10 0h0m3 7h0m14 11h0m5-18h0m1-16h0m15 33h0m-210 35h0m26 9h0m25-22h0m0 8h0m44-17h0m12-4h0m7 27h0m10-9h0m0-14h0m4 2h0m6 15h0m3-8h0m6-2h0m24 11h0m8-4h0m-173 54h0m12 4h0m70-38h0m-68 45h0m26 4h0m21 1h0m138 52h0m-36 47h0m72-7h0m25 11h0m-49 16h0m31 9h0m42 11h0m13 7h0m3-15h0m17-19h0m260 29h0m1-12h0m14 3h0m35 16h0m17-1h0m96-6h0m195-28h0m1 4h0m44 0h0m5-1h0m0 18h0m-841 19h0m26 6h0m21 4h0m7-5h0m15 26h0m24 0h0m36-6h0m61-18h0m1 20h0m15-26h0m32 16h0m118 5h0m1-16h0m1-3h0m73 21h0m5-9h0m5-15h0m4 16h0m44-20h0m6 22h0m3 6h0m0-1h0m54-6h0m18-11h0m4 19h0m15-6h0m1-4h0m55-15h0m-1502 63h0m39-14h0m17 12h0m20-10h0m5 23h0m71-1h0m87-12h0m676-18h0m114 26h0m15-29h0m82 22h0m6-20h0m28 15h0m248-18h0m-1436 66h0m17-20h0m6 29h0m52-17h0m3 9h0m3 2h0m29-29h0m7 1h0m124 24h0m1-12h0m66 9h0m17-12h0m20 12h0m706-4h0m23 13h0m78-6h0m-1091 47h0m12-32h0m0 23h0m7-2h0m17 13h0m5-37h0m3 15h0m27 6h0m13 7h0m71-20h0m21 20h0m6-23h0m33 10h0m65-4h0m9-10h0m2 5h0m1 2h0m11 10h0m-331 25h0m39-3h0m9 21h0m5-1h0m56-16h0m23 2h0m246-2h0m87 33h0m-497 35h0m4 6h0m167-13h0m42-13h0m86-8h0m17-1h0m122 3h0m-433 45h0m34 8h0m11-20h0m37 21h0m58-14h0m20 29h0m37-17h0m5-12h0m52 22h0m66-27h0m146 33h0m-373 16h0m10 0h0m384 12h0m13-11h0m30 7h0m41 9h0m38 12h0m30-4h0m33 6h0m52 33h0m18-20h0m-144 40h0m33 12h0m27 12h0m11-11h0m1175 108h0m-1472 82h0m14 36h0m216 4h0m648 18h0m-826 7h0m771 14h0m8-13h0m56 3h0m7 18h0m25-19h0m13 4h0m-844 49h0m15-13h0m45 35h0m2 16h0m50 9h0m11 9h0"/>
<path stroke="#4c117a" d="M1950 325h0m1 9h0m4-4h0m-9 12h0m11 9h0m-888 64h0m-12 17h0m5 13h0m1105 172h0m-132 17h0m-185 41h0m19 21h0m78-1h0m-1136 24h0m1078-5h0m-57 26h0m8 1h0m-464 116h0m-713 38h0m644-32h0m-730 59h0m8-1h0m20-11h0m1 24h0m3-15h0m123 16h0m5 1h0m-46 10h0m79 3h0m39 13h0m52-19h0m557 34h0m105-2h0m15 3h0m12-29h0m46 13h0m-927 20h0m6 29h0m1-16h0m11 25h0m102-29h0m610-7h0m37 15h0m74-7h0m41 11h0m29-13h0m-880 55h0m11-11h0m7 17h0m578-4h0m44-22h0m158 144h0m-33 23h0m-575 105h0m23 1h0m66-8h0m39 6h0m0 1h0m105-8h0m11 4h0m6-1h0m6 5h0m111-34h0m216 34h0m116 38h0m-606 10h0m32 20h0m597-9h0m62-6h0m1 6h0m-19 46h0m30 11h0m8-3h0m2 9h0m-315 2h0m28 1h0m31 10h0m93 8h0m3 8h0m32 2h0m20-27h0m3 10h0m19 22h0m-66 42h0m29-24h0m26 0h0m26 11h0m9 4h0"/>
<path stroke="#942c80" d="M1148 295h0m109 0h0m58 43h0m643-13h0m-694 44h0m101 151h0m-41 38h0m11 19h0m18-21h0m131 14h0m-230 29h0m34-17h0m11 16h0m29 20h0m12-33h0m24 25h0m5-10h0m54-6h0m11 4h0m24 4h0m50-3h0m2 7h0m12 4h0m71 6h0m210-7h0m136-5h0m33 6h0m93-10h0m10 1h0m4-18h0m16 18h0m32 2h0m18 0h0m-887 18h0m181 34h0m57-25h0m32 25h0m5-22h0m47 24h0m51 1h0m4-2h0m8-4h0m40-32h0m1 6h0m30 5h0m91 13h0m18-8h0m61 7h0m-1402 36h0m3-6h0m84 15h0m102-5h0m13-2h0m681-5h0m29-6h0m61 26h0m13-27h0m15-7h0m31 19h0m72-3h0m5 12h0m2-5h0m24-1h0m7-8h0m232 23h0m25-11h0m35-3h0m193-18h0m-1700 49h0m58-6h0m21 29h0m4-29h0m23 0h0m7-3h0m25 23h0m24-14h0m32 13h0m47-17h0m8 28h0m41-15h0m20 4h0m107-8h0m657 4h0m56 1h0m9 14h0m44-34h0m240 30h0m32-31h0m8 4h0m41 29h0m-1477 38h0m41-19h0m107 17h0m37-11h0m135-21h0m16 14h0m785-15h0m223 20h0m-1308 53h0m7-10h0m7-9h0m30-7h0m52 13h0m-176 35h0m5-15h0m67 23h0m108-5h0m15 20h0m225-32h0m43 21h0m436-4h0m-886 20h0m22-2h0m106 21h0m48 12h0m33-31h0m697 1h0m10 7h0m33 17h0m13 8h0m39-31h0m-840 57h0m61-11h0m326 15h0m66 5h0m-355 48h0m43-19h0m347 3h0m56-5h0m34 1h0m5-6h0m12 6h0m4 3h0m238 12h0m14-17h0m1 20h0m42-17h0m11 5h0m48 7h0m37-21h0m13-6h0m2 13h0m28 14h0m5 0h0m5-6h0m3-5h0m-947 31h0m25 26h0m17-4h0m85-21h0m220 26h0m43-23h0m42 4h0m277-9h0m42-8h0m9 5h0m48-8h0m25 16h0m38 15h0m9-25h0m7 32h0m2-38h0m57 11h0m-913 49h0m5 15h0m21-19h0m567 21h0m3-1h0m36-26h0m17 4h0m6 0h0m835 72h0m73 17h0m1-1h0m-1467 54h0m9-4h0m-12 13h0m7 4h0m7 6h0m2 27h0m186 14h0m627 20h0m9-1h0m60 0h0m-847 19h0m142-13h0m211 11h0m0 3h0m-319 28h0m1 10h0m105 59h0m11-2h0m10-7h0m10-9h0m665-8h0m-159 94h0m98-4h0m27 22h0m-90 13h0m30 20h0"/>
<path stroke="#f7705c" d="M1771 618h0m379 10h0m-1628 104h0m-33 13h0m107 26h0m35 29h0m101-12h0m-102 37h0m633 5h0m105 29h0m-59 7h0m20 10h0m22 16h0m109 66h0m164 15h0m-101 14h0m16 20h0m49-16h0m-274 58h0"/>
<path stroke="#7c2382" d="M1169 249h0m41 11h0m-57 33h0m11 1h0m10-17h0m94 20h0m-119 9h0m137 17h0m-64 47h0m28 6h0m33-18h0m673-15h0m22-2h0m-805 52h0m38 11h0m-148 33h0m2-3h0m80 2h0m16-8h0m255 9h0m1 7h0m-240 16h0m7 9h0m110 101h0m15-16h0m16-12h0m56 12h0m14-6h0m4 29h0m89-8h0m-207 18h0m204 10h0m4 15h0m92 3h0m35-5h0m61 1h0m39-8h0m12 11h0m55-10h0m31 8h0m118-6h0m58-8h0m97-1h0m6-8h0m14 15h0m64 7h0m-893 18h0m140 7h0m12 13h0m3 6h0m1-23h0m31 27h0m2-16h0m32-22h0m11 2h0m11 6h0m4-3h0m40 24h0m4 0h0m101-2h0m20-13h0m35 16h0m10-7h0m18-15h0m4 2h0m26-3h0m0 12h0m4-18h0m81 19h0m9-18h0m14 13h0m266-8h0m-1732 65h0m104-3h0m105 7h0m23 2h0m2-26h0m16-3h0m726-9h0m82 23h0m55 15h0m13-10h0m3 7h0m52-34h0m52 0h0m189 28h0m284-19h0m-1716 31h0m122 6h0m2 3h0m28 16h0m3-18h0m29 19h0m22-16h0m43 9h0m5-15h0m9-4h0m19 10h0m13 0h0m3 13h0m21 3h0m700-15h0m31 1h0m8 11h0m94-24h0m22 29h0m219-24h0m-1384 72h0m46-1h0m29-13h0m10 10h0m15-33h0m10 25h0m102-4h0m161 3h0m735-20h0m272 3h0m16 5h0m-1426 32h0m21 26h0m2-19h0m49 19h0m47-9h0m12-16h0m95-4h0m195 34h0m19-31h0m-420 75h0m54-22h0m15 16h0m17-26h0m35 5h0m57 26h0m49-35h0m90 5h0m136 7h0m-427 60h0m176 3h0m16-3h0m682-34h0m23 27h0m-869 17h0m84 10h0m334 2h0m14-2h0m64 10h0m8-8h0m-241 53h0m6-9h0m125-19h0m147 18h0m3 6h0m27 0h0m28-25h0m12 0h0m55 6h0m278 19h0m38 3h0m45 6h0m5-7h0m27-7h0m30-7h0m15-7h0m10 22h0m10-13h0m7-7h0m1 25h0m7-24h0m7 6h0m-919 47h0m82-1h0m211-12h0m5 27h0m0-17h0m41-12h0m19-7h0m23 37h0m314-34h0m137-4h0m6 20h0m23 0h0m32 0h0m1-9h0m5-6h0m2 6h0m1 11h0m-899 25h0m628 18h0m18-23h0m852 82h0m0 13h0m37-7h0m4 1h0m2 8h0m16 2h0m-1448 109h0m14 17h0m6-1h0m3 6h0m158 3h0m3-6h0m0-15h0m5 6h0m8-1h0m9 15h0m4-15h0m628 10h0m7-2h0m92 5h0m-925 8h0m6 15h0m16-9h0m37 8h0m143-15h0m182 18h0m383 21h0m43-4h0m12 4h0m3-15h0m8-23h0m18 2h0m12 20h0m4 1h0m8-11h0m-765 63h0m667-5h0m-691 11h0m23 11h0m12 2h0m35 7h0m2-8h0m11 24h0m18-16h0m629 17h0m-19 6h0m34 16h0m27 3h0m-220 25h0m167 5h0m10 4h0m-45 47h0m40-7h0"/>
<path stroke="#4c117a" d="M1924 329h0m9 2h0m41-1h0m11 8h0m0-4h0m-27 6h0m-881 88h0m346 23h0m722 156h0m35 6h0m-28 11h0m8 3h0m-308 47h0m14 12h0m30 2h0m3-9h0m266 10h0m11 5h0m-537 20h0m194-9h0m26 0h0m22 21h0m6-3h0m-96 34h0m23-8h0m-1149 145h0m32-2h0m613-31h0m-755 64h0m47-13h0m19-9h0m924 35h0m-839 27h0m756 1h0m27-5h0m87 13h0m-893 24h0m108-4h0m5 6h0m143 13h0m452-28h0m86 11h0m52-12h0m3 16h0m6 18h0m21-9h0m4-17h0m7 10h0m6 8h0m18-16h0m-838 32h0m546 17h0m131 158h0m-419 84h0m148 3h0m50-14h0m9-12h0m4 8h0m13-3h0m238 29h0m-498 18h0m31 46h0m630 2h0m46-3h0m11-5h0m-134 50h0m18-7h0m116 14h0m-315 10h0m25 0h0m16 3h0m17 1h0m101 19h0m37 2h0m62-17h0m32 29h0m-164 28h0m1-2h0m8 7h0m12 5h0m3-8h0m18-8h0m4 2h0m46 0h0m6-17h0m7 15h0m4-3h0m51-15h0"/>
<path stroke="#251255" d="M1147 258h0m53-7h0m3-2h0m-62 39h0m4-1h0m43-18h0m13 12h0m12 11h0m5 3h0m8 1h0m3-32h0m12 22h0m15 1h0m24 6h0m2-3h0m4 0h0m-112 42h0m10 4h0m78-23h0m5 2h0m0 5h0m8 4h0m20 12h0m5-26h0m22 26h0m-160 42h0m13-35h0m27 5h0m8 8h0m26 0h0m9-5h0m0 25h0m3-18h0m6 19h0m4-28h0m12 8h0m20 20h0m0-31h0m6 5h0m8-5h0m0-5h0m2 38h0m5-30h0m51 14h0m-223 52h0m3 3h0m17-37h0m9 26h0m19-14h0m10 12h0m6-4h0m81-8h0m15 9h0m15-17h0m31 1h0m-204 67h0m30 15h0m188 58h0m61 45h0m-83 41h0m56-10h0m78-8h0m49 26h0m135-10h0m6 1h0m120-7h0m71 10h0m87-8h0m128-14h0m104 6h0m-865 44h0m8-10h0m124-9h0m28 32h0m50-18h0m138 13h0m19 9h0m38-13h0m13-22h0m1 22h0m21-12h0m33 7h0m13-12h0m4 1h0m30 16h0m29 10h0m6-12h0m-1416 52h0m5-10h0m10-4h0m14-3h0m34 18h0m117-4h0m699-18h0m47-11h0m50-2h0m37 13h0m32-11h0m5 13h0m64 0h0m5-6h0m5 12h0m15 3h0m1 13h0m263-35h0m-1304 52h0m1 0h0m25 9h0m85-22h0m11 3h0m85 16h0m681-13h0m150 1h0m-1177 67h0m32-18h0m9-6h0m100 0h0m50 18h0m161-22h0m37 23h0m710-27h0m-1103 47h0m23 13h0m39 13h0m12 0h0m32-19h0m4-3h0m22 5h0m18-13h0m52 30h0m136-26h0m64-4h0m19 2h0m-422 34h0m74 7h0m23 7h0m21-5h0m25 14h0m20-13h0m40 8h0m27 1h0m6-17h0m48 6h0m170-12h0m31 14h0m-423 50h0m0-11h0m51 6h0m37 2h0m6 16h0m33-21h0m8 18h0m9-29h0m52 19h0m11 2h0m10-16h0m-135 51h0m433 8h0m34-4h0m16 14h0m43 0h0m-22 31h0m5 1h0m22-10h0m21 11h0m42-7h0m-66 55h0m4-38h0m1176 139h0m2 2h0m7-5h0m-1463 80h0m9-11h0m5 44h0m4 21h0m201 6h0m4 0h0m657-8h0m-668 20h0m7-4h0m563 34h0m2-20h0m28-15h0m35 30h0m23-2h0m16-32h0m13 22h0m32-13h0m-856 44h0m22 6h0m743-18h0m-700 53h0m22-3h0m4 15h0m12-11h0"/>
<path stroke="#7c2382" d="M1153 264h0m86 22h0m19-19h0m-88 45h0m144 8h0m617 16h0m18-2h0m-784 37h0m19-29h0m73 0h0m70 9h0m9 21h0m645-32h0m-773 48h0m88 2h0m2-9h0m1 29h0m46-26h0m1 144h0m12 11h0m-81 31h0m49-8h0m132 4h0m16 13h0m-50 27h0m32-19h0m32 23h0m40-4h0m184 5h0m30-5h0m133 9h0m63-5h0m16-6h0m6 13h0m1-13h0m27-9h0m6 7h0m1-12h0m44 0h0m43-8h0m65 29h0m32 1h0m-874 47h0m9 0h0m20 1h0m11-3h0m21-3h0m7-16h0m88-14h0m93 17h0m89-19h0m36 34h0m60-12h0m66-13h0m12 27h0m72-18h0m7-20h0m-1441 66h0m19 2h0m25-21h0m1 10h0m18 11h0m163-9h0m638-5h0m44 10h0m15-18h0m8 21h0m81-13h0m16-10h0m48-3h0m41 31h0m9 1h0m17 6h0m28-13h0m206 3h0m42-2h0m125-26h0m139 13h0m11 3h0m-1742 48h0m24 7h0m60-26h0m5 2h0m4 28h0m13-7h0m16-1h0m51-19h0m1 16h0m68-22h0m8 21h0m12-9h0m5-14h0m18 8h0m7-7h0m6 20h0m31-5h0m141 15h0m533-18h0m41-8h0m28 25h0m15-4h0m6-8h0m37 19h0m50-23h0m10 1h0m309-11h0m-1497 67h0m29-24h0m5 22h0m9 4h0m10-15h0m46 2h0m17-5h0m27-9h0m30 10h0m2 18h0m10-10h0m31-17h0m12 19h0m24-15h0m100 7h0m32 10h0m3 0h0m65 8h0m934-26h0m26-2h0m-1370 59h0m10-28h0m63 2h0m82 5h0m78 14h0m138-19h0m-202 69h0m78-4h0m197-24h0m389 20h0m-855 29h0m57 0h0m74 9h0m6-16h0m24 20h0m28-6h0m22 13h0m93-32h0m585 16h0m4-5h0m9 3h0m60-13h0m-875 42h0m33 25h0m44-17h0m380 16h0m6 4h0m2-10h0m54 19h0m3-2h0m-405 35h0m158-25h0m1 0h0m233 7h0m14-15h0m21 21h0m42 17h0m5-30h0m5 4h0m9 1h0m1 13h0m1-8h0m40 12h0m5-10h0m341-1h0m2 3h0m62-11h0m9 7h0m5 8h0m22-12h0m2 10h0m-938 38h0m3 9h0m3-18h0m4 25h0m33-37h0m31 29h0m243-10h0m3-8h0m38-6h0m5 19h0m5-10h0m18-8h0m21 14h0m1 16h0m347-35h0m36 15h0m33-11h0m20-1h0m25 29h0m2 0h0m22-12h0m20-10h0m-863 33h0m9 6h0m10 6h0m571 10h0m2-1h0m24-20h0m850 87h0m46-3h0m-1440 69h0m6 39h0m0-20h0m1 0h0m18 60h0m161-24h0m3 26h0m6-23h0m2 9h0m14-22h0m220 36h0m496-7h0m-883 26h0m4-1h0m17 5h0m253 9h0m28 3h0m47-16h0m30-8h0m380 24h0m23-20h0m0-2h0m29 15h0m9 8h0m23-7h0m14-13h0m-810 34h0m11 13h0m2 3h0m11 10h0m65-24h0m50-5h0m-96 49h0m49 9h0m477 60h0m50 32h0m29-28h0m9 2h0m33 14h0m2-6h0m57-14h0m2 9h0m29 0h0m-125 49h0m124-18h0"/>
<path stroke="#8c2981" d="M1158 368h0m-6 17h0m-497 88h0m620 388h0m-57 61h0m32 16h0m153-34h0m55 31h0m-193 5h0m4 2h0m16 2h0m-107 68h0m10 3h0m336-1h0m581 94h0m8 6h0m-1257 96h0"/>
<path stroke="#51127c" d="M1188 251h0m4-9h0m12 7h0m-72 35h0m7-18h0m14 19h0m1 13h0m14-32h0m7 0h0m14 22h0m4 4h0m14-10h0m26 2h0m9 1h0m26-18h0m33 31h0m-153 5h0m6-1h0m70 23h0m21-7h0m19 9h0m2-14h0m10 22h0m32-1h0m31-10h0m-192 47h0m33-9h0m9-5h0m26 10h0m3-18h0m3 20h0m54-28h0m0 29h0m11-11h0m26-2h0m22 21h0m604-16h0m-769 47h0m84-10h0m21-15h0m23 21h0m31-8h0m-175 24h0m107 5h0m100 4h0m-691 51h0m528-14h0m140 68h0m23-4h0m4 2h0m3-8h0m52 13h0m-131 23h0m11 8h0m10 8h0m7-15h0m31-5h0m6-14h0m3 29h0m40-3h0m24-21h0m4 22h0m9 3h0m-158 42h0m12-13h0m4 15h0m6 3h0m0-37h0m1 5h0m22 17h0m0-3h0m52 0h0m27-17h0m17-3h0m12-1h0m77 27h0m26 1h0m45 3h0m19-5h0m80 1h0m33-7h0m8 18h0m62-8h0m26-6h0m15 15h0m54-5h0m101 3h0m104-38h0m60 8h0m-836 68h0m4-22h0m45-9h0m19 34h0m16-25h0m41 5h0m17 13h0m2-27h0m29 17h0m10 14h0m5-23h0m4 21h0m12-18h0m26-15h0m39 37h0m57-30h0m35 29h0m52-15h0m6 0h0m43-7h0m2-8h0m13 1h0m33 18h0m3-20h0m1 5h0m16 2h0m16 14h0m28-18h0m58-1h0m-1497 63h0m11-2h0m7-2h0m11-9h0m11 2h0m8 5h0m72 12h0m1 2h0m9-6h0m45 0h0m68-26h0m642-4h0m49-1h0m21 8h0m14 11h0m17 17h0m19 1h0m19-8h0m7-31h0m38 33h0m7-20h0m3 13h0m17-20h0m5-3h0m13 15h0m33 10h0m25 7h0m4-12h0m40-11h0m-1246 47h0m2 3h0m4-21h0m5 6h0m8 5h0m24 16h0m27-10h0m27 11h0m24-14h0m20-7h0m3 28h0m43-28h0m42 9h0m26-11h0m54 21h0m6 4h0m34-3h0m645-18h0m89 12h0m9 11h0m4-24h0m6 8h0m36 20h0m21-17h0m26-16h0m3 9h0m-1179 31h0m22 29h0m29-17h0m41 13h0m22 4h0m20 5h0m16-37h0m32 35h0m40-17h0m21 3h0m93-17h0m3 5h0m2 9h0m2 2h0m24-7h0m9 22h0m30 1h0m934-28h0m-1347 44h0m8 20h0m7-6h0m5 8h0m18 1h0m0-14h0m63-12h0m10 18h0m22 7h0m1-27h0m54-8h0m12 22h0m61 4h0m139-19h0m4 32h0m5-7h0m1-11h0m5-8h0m5-11h0m3 24h0m3 2h0m0-8h0m10-15h0m-428 65h0m6-23h0m3 33h0m4-22h0m0 8h0m7-6h0m81 0h0m115-2h0m58-15h0m23 2h0m39 15h0m66-15h0m23-2h0m4 2h0m38 3h0m-442 38h0m8 18h0m12 12h0m5 3h0m151-19h0m8 13h0m22-17h0m19-10h0m-172 45h0m7-3h0m53 6h0m18-6h0m272 26h0m78-12h0m0-5h0m36 8h0m4 3h0m5-3h0m0-4h0m110 17h0m4-4h0m148-2h0m-310 47h0m93-14h0m29 5h0m88 6h0m10-2h0m6 1h0m15 0h0m-311 26h0m135 5h0m11-21h0m40 26h0m1-20h0m1-10h0m7 5h0m7-3h0m21 19h0m276-6h0m6 6h0m7-2h0m-154 21h0m0 0h0m18 5h0m984 93h0m48-11h0m-1458 71h0m-18 35h0m13-7h0m2 0h0m2 10h0m1-21h0m1 46h0m1-19h0m2 22h0m106-10h0m88 4h0m15-8h0m1-2h0m4 29h0m118-3h0m420-11h0m100 7h0m11 8h0m13-7h0m20 7h0m-887 2h0m3 1h0m35 25h0m14 8h0m7 1h0m125-29h0m565 14h0m3 4h0m37 9h0m60-19h0m8 18h0m15-13h0m6 4h0m-826 23h0m8-1h0m652 15h0m21-1h0m2-12h0m27 2h0m-652 43h0m3-2h0m36 1h0m568 20h0"/>
<path stroke="#b73779" d="M1221 259h0m-81 53h0m10 27h0m775-2h0m3-12h0m-664 46h0m68-9h0m30-7h0m-205 50h0m251 28h0m27 35h0m350 149h0m183 2h0m85-27h0m93-3h0m-738 45h0m389 14h0m96-26h0m-52 63h0m-1251 34h0m54-4h0m80 2h0m761-15h0m120 11h0m-1197 31h0m374 15h0m-150 27h0m95 24h0m58-27h0m26 8h0m97 26h0m-315 27h0m280-17h0m391-2h0m-769 46h0m39-7h0m61 20h0m46 4h0m48 5h0m-59 77h0m123-1h0m300 9h0m64-37h0m4 8h0m21 3h0m241 28h0m144-3h0m50-29h0m16 17h0m2-7h0m-72 49h0m84-23h0m-272 42h0m869 73h0m-14 11h0m27 12h0m-1422 90h0m18 29h0m201 9h0m-201 10h0m170 0h0m674 31h0m7-12h0m-794 37h0m20 9h0m39-17h0m60 51h0m1 6h0m15-1h0m676 8h0m-194 64h0m161 45h0"/>
<path stroke="#942c80" d="M1206 316h0m722 22h0m15-3h0m0 14h0m18 4h0m19 3h0m2 4h0m-768 75h0m-23 36h0m247 2h0m-66 47h0m8 17h0m-62 8h0m42 28h0m30-28h0m48 19h0m-182 26h0m3-2h0m53-3h0m61 16h0m8-20h0m28 21h0m54-18h0m8 8h0m185 19h0m359-25h0m134 10h0m1 5h0m7 10h0m1 1h0m-843 45h0m87 1h0m101-33h0m25 28h0m35-20h0m94 13h0m7 6h0m5 1h0m2-16h0m15 11h0m8 12h0m0-13h0m27-15h0m26-9h0m25 14h0m49-9h0m18 25h0m138-5h0m186-25h0m-1658 60h0m36 8h0m4-4h0m89-3h0m689-18h0m34 13h0m123 6h0m18 6h0m13 4h0m29-33h0m371 33h0m-1456 17h0m17 16h0m159-14h0m61-12h0m32 26h0m2-3h0m792 0h0m22-17h0m52 4h0m41-1h0m256 8h0m-1487 53h0m10 5h0m182-8h0m28 11h0m19-34h0m100-5h0m22 2h0m8 29h0m34-2h0m-401 34h0m34 6h0m6-26h0m46 14h0m12 2h0m88 7h0m242-10h0m-258 47h0m11 14h0m9-34h0m9 16h0m11-4h0m27 2h0m7 1h0m38 3h0m13 9h0m184-28h0m-419 69h0m9 2h0m44-22h0m5 21h0m91-20h0m108-1h0m651 25h0m2-1h0m-920 8h0m41 6h0m13-3h0m39-6h0m22 22h0m10-1h0m35-2h0m8-12h0m356 19h0m27-2h0m71 25h0m7 18h0m26 12h0m9-21h0m22-5h0m354 2h0m21 5h0m21 3h0m31-3h0m59 3h0m-970 16h0m41 4h0m311 10h0m11 26h0m46-1h0m16-35h0m31 35h0m314-28h0m43 0h0m20 1h0m2 5h0m-451 25h0m243 22h0m16-7h0m30 4h0m7-3h0m2-9h0m-525 139h0m-30 44h0m17-21h0m6-2h0m669-3h0m-671 47h0m5 20h0m1-13h0m22 19h0m170-31h0m5 0h0m607 31h0m74-7h0m-833 42h0m326-12h0m302 13h0m139-23h0m2 19h0m9-10h0m11-5h0m7-5h0m21 29h0m7-7h0m-814 9h0m34 17h0m25 34h0m33-12h0m19 21h0m31-18h0m586 15h0m90 14h0m-284 53h0m71 3h0m189 21h0m-20 20h0"/>
<path stroke="#f9795d" d="M1383 364h0m-148 561h0"/>
<path stroke="#090720" d="M1147 256h0m28-12h0m31 2h0m10 4h0m-56 33h0m28 16h0m20-17h0m21-10h0m37 25h0m-105 7h0m89 17h0m52 8h0m1-24h0m8 4h0m29 8h0m10 22h0m586-11h0m4-7h0m-782 39h0m32 19h0m64 1h0m8-34h0m36 16h0m14 17h0m28-9h0m0-9h0m9-14h0m14 10h0m592 0h0m1 1h0m-725 39h0m27-6h0m12 8h0m19-10h0m7 23h0m19-22h0m3 22h0m14-5h0m-170 56h0m26 5h0m246-3h0m683 191h0m-280 33h0m290-14h0m-283 43h0m5-1h0m-78 42h0m37-5h0m-1147 146h0m12-5h0m21-5h0m3-4h0m700-24h0m-841 66h0m10-6h0m32-13h0m35 42h0m5 18h0m23 4h0m35-7h0m16-23h0m9 15h0m52-4h0m88-12h0m565 16h0m160 8h0m13 0h0m16 8h0m-966 7h0m41 16h0m2-7h0m1 20h0m8 9h0m1-24h0m55 23h0m-50 14h0m756 157h0m-608 87h0m252 16h0m4 6h0m56-6h0m41-23h0m3 6h0m12 12h0m22-24h0m-270 71h0m49-2h0m545 1h0m-33 84h0m64-28h0m-114 49h0m17-7h0m10 24h0m29-6h0m11-11h0m40-5h0m4-7h0m51 32h0m17-1h0m18-32h0m-158 49h0m25 7h0m97-21h0"/>
<path stroke="#de4968" d="M1130 304h0m180 12h0m634 5h0m29 32h0m-749 77h0m-568 43h0m1163 145h0m59 2h0m191-20h0m-486 54h0m152-27h0m24 10h0m7 0h0m-1086 42h0m881 5h0m13-18h0m387 7h0m-1518 37h0m1105 18h0m337-22h0m-1466 45h0m1 10h0m74 1h0m113 8h0m49-8h0m5 2h0m1118-9h0m-496 81h0m7 16h0m-818 8h0m903 38h0m9-3h0m-763 15h0m813 26h0m-789 38h0m335-33h0m201 25h0m74-24h0m159 29h0m174-3h0m-877 30h0m279 15h0m47 1h0m39-8h0m308 13h0m49-23h0m-722 46h0m571 6h0m45-19h0m864 75h0m12 9h0m18-13h0m13 13h0m11-2h0m-812 84h0m-444 29h0m-167 47h0m81 20h0m692 15h0m20 24h0m-661 21h0m674 94h0"/>
<path stroke="#331067" d="M1972 334h0m-61 36h0m46-15h0m18-5h0m-902 67h0m350 31h0m21 31h0m9 8h0m95 117h0m562 40h0m-232 55h0m12-6h0m242-17h0m-533 40h0m74 0h0m123-1h0m36-9h0m14-5h0m7 7h0m16 19h0m23 11h0m16-11h0m44-23h0m-155 49h0m-524 83h0m-526 28h0m562-3h0m0 1h0m8 8h0m3 6h0m73-16h0m-583 66h0m567-24h0m12 0h0m167 34h0m-933 23h0m5-12h0m9 18h0m30 9h0m25-12h0m3-17h0m11 10h0m25 6h0m63 3h0m656-2h0m41 15h0m65-11h0m1 2h0m15-14h0m26-8h0m-919 60h0m3-20h0m1 28h0m70-29h0m51-5h0m111 30h0m466-13h0m49-7h0m87 14h0m32 7h0m21 7h0m20-24h0m-882 50h0m2-2h0m12 5h0m572 4h0m41-22h0m21 4h0m-153 249h0m4 4h0m5-16h0m3 6h0m14-8h0m246 27h0m-513 35h0m57 14h0m677 33h0m0-19h0m-117 50h0m94 4h0m22-5h0m-278 14h0m42 7h0m10 2h0m23 7h0m87-1h0m16-11h0m7 7h0m23 27h0m8-35h0m47 3h0m-175 43h0m20-7h0m24 7h0m23 0h0m3 13h0m11 7h0m13-30h0m52 25h0"/>
<path stroke="#fe9f6d" d="M1337 876h0m1 5h0m27 10h0m170 58h0m58 16h0m3-1h0m-321 87h0m75-19h0"/>
<path stroke="#000004" d="M1179 257h0m14-14h0m24 10h0m-83 29h0m14-17h0m6 1h0m0 15h0m5 14h0m13-28h0m0 1h0m1 14h0m22 0h0m14-9h0m12 4h0m1 20h0m18-34h0m0 28h0m27-24h0m-64 58h0m40-24h0m9 29h0m2-5h0m5-4h0m4 0h0m24 10h0m5 9h0m13-5h0m9-14h0m618 12h0m6-5h0m1 7h0m2 0h0m5-17h0m2 1h0m6 7h0m5 9h0m1-6h0m4 3h0m19 4h0m-814 41h0m14-32h0m16 28h0m39-5h0m22 4h0m19-12h0m0-9h0m0-4h0m1 7h0m0 24h0m2-24h0m19 25h0m5-28h0m27 27h0m11-35h0m12 8h0m4 4h0m543 15h0m1 1h0m7-2h0m1 5h0m27-21h0m14-3h0m2 3h0m14-7h0m7 3h0m-917 69h0m4-3h0m6 1h0m90-18h0m12-12h0m27 22h0m22-20h0m5 22h0m24-28h0m19 6h0m31 7h0m4 11h0m6 9h0m28-10h0m1-24h0m9 9h0m16-7h0m-597 75h0m293-37h0m6 29h0m0-22h0m14-1h0m2 15h0m7-5h0m43 17h0m0 2h0m9 2h0m87-33h0m4 0h0m180 10h0m2 4h0m1-1h0m12 19h0m-610 35h0m3-6h0m401-22h0m229 21h0m-103 41h0m2 10h0m7-8h0m37 9h0m8-12h0m-616 26h0m5-9h0m2 7h0m487 24h0m2 2h0m13 3h0m3-1h0m2 1h0m9-23h0m0 3h0m2-7h0m1 22h0m5-27h0m19 5h0m17 20h0m3-17h0m8-7h0m8 22h0m2-6h0m7 4h0m4-16h0m0 26h0m2-10h0m0-10h0m11-1h0m1-15h0m3 21h0m3 16h0m2-29h0m13 29h0m30-26h0m15 27h0m4-14h0m7 8h0m2 6h0m3-23h0m45 15h0m16-19h0m11 14h0m-281 45h0m28 6h0m1-14h0m23 12h0m0-7h0m1 0h0m17-7h0m4-16h0m2 6h0m2 10h0m8-7h0m8 0h0m14 15h0m7-9h0m4 15h0m0-3h0m4-2h0m2-26h0m8 3h0m12 14h0m0 15h0m3-7h0m0-28h0m1 38h0m4-17h0m27-9h0m8 8h0m0-16h0m5 12h0m6 16h0m10-17h0m11 21h0m6-21h0m5-2h0m14 6h0m9 6h0m46-11h0m5-1h0m7 15h0m12 8h0m4-7h0m9 3h0m4-6h0m6-2h0m5 11h0m0-5h0m17 0h0m1 7h0m20-7h0m18 3h0m11 2h0m11-16h0m6 1h0m6 8h0m12 5h0m8 0h0m3-12h0m3 1h0m30 6h0m8 3h0m15-7h0m52 15h0m89-8h0m15-6h0m2 8h0m18-17h0m12 3h0m8 4h0m0-2h0m0 12h0m12-3h0m5-13h0m8 7h0m7-7h0m6 6h0m2-1h0m1-18h0m5-2h0m4 17h0m24-10h0m1 3h0m13-6h0m13-1h0m12 2h0m12 10h0m2-1h0m10-8h0m13 8h0m7 6h0m7 1h0m6 3h0m3-6h0m1 17h0m1-5h0m1 1h0m-896 26h0m1 4h0m16-5h0m23-19h0m2 26h0m5-3h0m10-3h0m1-4h0m25 4h0m5 7h0m2 2h0m1-28h0m1 22h0m2-14h0m8 17h0m13-11h0m1 8h0m6-4h0m15-14h0m1 18h0m10-19h0m16-4h0m0 20h0m3 4h0m6 5h0m5-12h0m13-6h0m6-7h0m3 5h0m9 23h0m13-31h0m2 33h0m0-13h0m1 12h0m0-2h0m9-16h0m0 2h0m16-6h0m3-9h0m4 29h0m12-26h0m5 13h0m9 0h0m21 22h0m9-37h0m6 32h0m4 3h0m7-2h0m3-12h0m8 8h0m7-3h0m2-9h0m6-11h0m2 19h0m5 12h0m0-31h0m7 14h0m8 6h0m33-7h0m2 4h0m14-9h0m2-5h0m14 0h0m5-10h0m6 13h0m6 14h0m4-21h0m5 12h0m2-8h0m12-9h0m5 2h0m24 27h0m45-26h0m1 32h0m7-32h0m32-2h0m26 6h0m1-7h0m13 2h0m16-3h0m6 37h0m0-36h0m24-2h0m8 10h0m34 17h0m12-23h0m10 29h0m5-32h0m1 26h0m26-11h0m16 7h0m6-9h0m36 16h0m8 5h0m4-15h0m45-21h0m-1737 76h0m28-12h0m9 3h0m28-17h0m25 12h0m46 4h0m94 5h0m4 8h0m14-16h0m8-3h0m650-4h0m16 3h0m4-12h0m2-5h0m21 32h0m6-31h0m10 32h0m4-34h0m20 11h0m11-3h0m6 8h0m2 7h0m2 4h0m2-11h0m14-7h0m7 19h0m1-21h0m16 26h0m8-12h0m1-20h0m1 34h0m2-6h0m12 5h0m9-32h0m4 10h0m3 4h0m1-10h0m11 3h0m12 15h0m7-14h0m18 22h0m9-30h0m2 19h0m2-3h0m6 6h0m6-7h0m1-15h0m0 8h0m1 11h0m4-9h0m4 2h0m8 21h0m5-29h0m3 1h0m2 6h0m40-13h0m13 1h0m35 5h0m23 8h0m101-15h0m18 21h0m11 7h0m8-14h0m5 22h0m20-8h0m22-5h0m55-14h0m3 26h0m39-23h0m1 12h0m21-21h0m73 1h0m5-1h0m8 10h0m4-10h0m16 21h0m38 5h0m-1769 38h0m16 8h0m13 4h0m71-5h0m33-31h0m27 17h0m2 18h0m59-38h0m18 9h0m5 28h0m13-10h0m75-4h0m10 7h0m73-11h0m34 5h0m30 14h0m499-37h0m46 5h0m27 20h0m14 5h0m11-23h0m14-3h0m7 23h0m11-12h0m0-10h0m5 22h0m9-1h0m2-6h0m2-8h0m28 17h0m6-21h0m1 6h0m7 15h0m2-11h0m5 12h0m1 8h0m6-27h0m5 19h0m0-15h0m2-4h0m8 2h0m0-1h0m2-13h0m4 20h0m3-5h0m8 2h0m7-9h0m132 4h0m15-1h0m4 1h0m1-1h0m62-10h0m13 7h0m28 19h0m28 3h0m24-15h0m-1536 47h0m19-1h0m37 12h0m55 5h0m11-34h0m6 31h0m66-27h0m5 2h0m4-7h0m24 10h0m1 24h0m30-17h0m102-4h0m13-12h0m29 31h0m63-22h0m634-10h0m15-3h0m11 2h0m2 4h0m6 3h0m247 6h0m-1362 55h0m46-21h0m14-8h0m7 34h0m47-11h0m24 7h0m32 6h0m13-23h0m66-11h0m20 5h0m35 6h0m80-12h0m10 7h0m2 26h0m32-4h0m-452 23h0m12 11h0m8 11h0m13-26h0m22 2h0m4 28h0m12-17h0m26 1h0m70 1h0m19-18h0m46 30h0m5-7h0m18-21h0m5 22h0m170-23h0m19 13h0m6-6h0m8 13h0m4 2h0m1-1h0m8-18h0m11 5h0m381-6h0m9 1h0m18 8h0m3 1h0m7 15h0m0-7h0m-862 37h0m18-13h0m31-7h0m21 22h0m11-10h0m4-5h0m4-4h0m14 5h0m6 25h0m11-34h0m3 30h0m16 0h0m36-11h0m6 5h0m19-24h0m5 35h0m21-20h0m13 15h0m6-30h0m2-3h0m2 25h0m10-3h0m1 7h0m2-8h0m3 11h0m10-4h0m8-4h0m152-11h0m5 7h0m453-10h0m16 12h0m38-22h0m10 16h0m-910 38h0m10-7h0m9 12h0m19-8h0m6 2h0m12-11h0m36 14h0m10 8h0m16-13h0m7 10h0m3-10h0m4-5h0m8 0h0m3 9h0m6 21h0m5-27h0m16-9h0m9 23h0m194 11h0m38-16h0m4 3h0m28-6h0m6 0h0m8-3h0m16 6h0m3 0h0m3 10h0m21-10h0m4 13h0m21 3h0m3-10h0m16 7h0m21-1h0m34 6h0m6 1h0m135-16h0m172-20h0m-769 50h0m14 7h0m40 1h0m17 1h0m2-6h0m1-9h0m20 6h0m77 1h0m62-11h0m94 6h0m26 31h0m29-1h0m13 0h0m30 0h0m21 1h0m18-37h0m9 36h0m0-28h0m2 17h0m15-22h0m14 3h0m18 10h0m3 14h0m2 2h0m19-26h0m21 7h0m13 0h0m43 1h0m317 15h0m-910 13h0m4 5h0m1-5h0m16 24h0m5-11h0m2 10h0m8-10h0m5-12h0m2 1h0m1 34h0m8-34h0m49 6h0m6 1h0m47 12h0m175-3h0m0-9h0m8 18h0m32-25h0m0 18h0m24-4h0m4 3h0m9-18h0m0 18h0m7-6h0m1 12h0m5-23h0m27 19h0m7-20h0m321 13h0m39-3h0m40-14h0m62 32h0m-878 16h0m7 2h0m2 21h0m3-27h0m5-5h0m265 3h0m385-3h0m857 77h0m-106 15h0m9 1h0m29-6h0m39 7h0m10 1h0m7 9h0m1-13h0m4-4h0m1 5h0m5 15h0m1-5h0m0 2h0m4-9h0m1 13h0m6 4h0m2-19h0m3 0h0m4 14h0m13-5h0m3-13h0m4-3h0m11 15h0m2-11h0m1 5h0m5 0h0m-1480 63h0m30-5h0m2-1h0m667 1h0m1-8h0m4 3h0m2-2h0m2 5h0m-711 32h0m1 14h0m3 2h0m0-24h0m1 0h0m0 23h0m1-21h0m0 3h0m2 0h0m0 6h0m0-13h0m1 14h0m1 9h0m6-25h0m607 7h0m31-5h0m2 3h0m25-9h0m-678 35h0m2 1h0m1 8h0m0 3h0m12-7h0m1 25h0m1 2h0m2-1h0m2-12h0m1 16h0m4-14h0m137 6h0m25-2h0m5 2h0m7 11h0m1-30h0m1 10h0m6-17h0m4 11h0m1-11h0m5 4h0m1 13h0m1-3h0m3 15h0m1 4h0m126-2h0m33 4h0m39-1h0m4-3h0m14-5h0m2 8h0m8 2h0m1-4h0m326-1h0m34 6h0m8-3h0m5 2h0m12-9h0m4 5h0m0-2h0m11 4h0m7-4h0m5-2h0m4 1h0m2 6h0m44-2h0m20-5h0m11 7h0m-915 16h0m8-10h0m1 10h0m2 11h0m0-11h0m14 2h0m4 22h0m3-31h0m5 26h0m4-6h0m6-17h0m7 4h0m19 22h0m31-21h0m13-13h0m3 35h0m1-33h0m22 7h0m1 10h0m3-11h0m5 6h0m6-15h0m8 12h0m0-12h0m2 7h0m24 20h0m0 7h0m1-34h0m3 15h0m106 13h0m11 7h0m13-10h0m6 7h0m4-2h0m3-2h0m10-9h0m5-2h0m7 9h0m7-7h0m3-7h0m0 8h0m2-10h0m4-1h0m0 10h0m1-5h0m1-10h0m0 21h0m1-12h0m4-10h0m1 21h0m3-18h0m0 12h0m2-6h0m6-3h0m3 12h0m0-19h0m2 1h0m1 17h0m1-12h0m0 10h0m1 4h0m3-12h0m2 0h0m0 12h0m1 1h0m1-17h0m0 17h0m4-17h0m3-3h0m5-1h0m13-3h0m207 33h0m5 1h0m11 3h0m1-4h0m28 6h0m62-25h0m14 0h0m5 13h0m10 4h0m3 6h0m11-20h0m1 3h0m2-8h0m3 20h0m0-1h0m8-10h0m7 10h0m11-7h0m4-20h0m0 35h0m8-33h0m7 28h0m1-7h0m12-13h0m4 14h0m2-17h0m5 10h0m4-13h0m5 7h0m1-8h0m29-6h0m7 2h0m1-2h0m-879 48h0m13-5h0m3-2h0m3 4h0m4-1h0m7 12h0m12 21h0m3-12h0m8-1h0m12 7h0m5 2h0m2-24h0m17 10h0m2 8h0m4-17h0m15 7h0m32-2h0m10 17h0m4-5h0m1-1h0m1-6h0m0-17h0m6 4h0m2 13h0m440-19h0m32 1h0m8 2h0m7 2h0m6 3h0m3-3h0m20 18h0m24-23h0m8 22h0m5 0h0m6-3h0m9-21h0m10 1h0m3 0h0m24 5h0m15 3h0m27-6h0m-759 38h0m7-1h0m0 2h0m9 13h0m8-9h0m1-3h0m7 8h0m2 6h0m1-5h0m3 0h0m5-2h0m7 4h0m8 17h0m2-11h0m5 15h0m2-11h0m1 0h0m3-19h0m6 17h0m17-3h0m1-15h0m4 23h0m9-23h0m546 4h0m4 12h0m36-14h0m18 23h0m0-7h0m0 11h0m11-4h0m21 2h0m14-10h0m1-10h0m1 14h0m2-3h0m2 10h0m2 6h0m3-33h0m0 31h0m1-7h0m4-9h0m0-10h0m0 24h0m5-16h0m3-7h0m1 12h0m-1160 50h0m6-15h0m0 4h0m1 4h0m9-2h0m5-5h0m7 1h0m5-1h0m2-2h0m820 20h0m11 2h0m115 0h0m18-1h0m13-1h0m18 1h0m7-25h0m34 27h0m5-30h0m19 19h0m12-27h0m10 14h0m2 1h0m27 18h0m0-29h0m1 20h0m4 1h0m0 5h0m5 6h0m-277 4h0m75 6h0m2 0h0m4-2h0m0 26h0m1 0h0m5-13h0m0 1h0m1 10h0m4-1h0m2-14h0m0 12h0m1-17h0m1-5h0m0 11h0m11 11h0m1 10h0m1-22h0m1-3h0m2 21h0m2-19h0m1-10h0m8 14h0m2-15h0m1 13h0m0-9h0m3-3h0m4 8h0m1 18h0m0-20h0m0 18h0m3 10h0m5-37h0m3 12h0m2 6h0m3 6h0m1-4h0m1-18h0m1 26h0m1-4h0m1-23h0m8 27h0m1 4h0m11-21h0m3-2h0m8 8h0m3-8h0m6 19h0m1-1h0m6-12h0m8 18h0m3-10h0m4-19h0m7 14h0m0-1h0m11-6h0m10 16h0m2-17h0m2 5h0m4-2h0m5 1h0m1 14h0m-184 12h0m10 25h0m1-6h0m2-7h0m4-6h0m7 6h0m10-9h0m3 9h0m6 6h0m3 1h0m0 2h0m3 0h0m8-7h0m2-3h0m2 9h0m4-7h0m4-13h0m3 20h0m2-10h0m4 7h0m1 5h0m2 7h0m2-29h0m5 31h0m2-23h0m1 26h0m10-24h0m1 8h0m8-11h0m3 4h0m4 3h0m2 10h0m2-18h0m2 17h0m4-7h0m4-15h0m6 7h0m6 1h0m1 11h0m0-15h0m16 20h0m1-12h0m1 2h0m2-3h0m3 4h0m3 0h0m3-14h0"/>
<path stroke="#6b1d81" d="M1890 382h0m-1197 109h0m100 34h0m432 415h0"/>
<path stroke="#641a80" d="M1231 256h0m-95 12h0m10 14h0m3 8h0m24-15h0m1-12h0m66 29h0m-72 8h0m52 19h0m21-4h0m39-10h0m32 25h0m8-12h0m5-9h0m599 24h0m22-2h0m33 9h0m10-4h0m-776 31h0m14 12h0m26-1h0m14-24h0m9-7h0m14 32h0m12-33h0m0 3h0m5 13h0m26 13h0m16-27h0m7 1h0m596-8h0m5 6h0m-760 47h0m50 23h0m12-29h0m16 1h0m-128 67h0m10 7h0m220 63h0m6-1h0m-22 19h0m7-4h0m6 34h0m6-16h0m3 3h0m5-6h0m49 21h0m31 3h0m-212 26h0m4-4h0m6-7h0m8 6h0m6 4h0m7 7h0m31-9h0m41 6h0m24-28h0m27 26h0m19 14h0m12-19h0m29-3h0m4-4h0m218 25h0m23-9h0m1-7h0m19 6h0m20-1h0m217-1h0m15-4h0m35-16h0m94 1h0m35 9h0m10 12h0m-814 11h0m31 18h0m11 14h0m21-13h0m24-7h0m31 10h0m18-6h0m3 1h0m85 19h0m41 2h0m5-22h0m6 14h0m20-21h0m15 30h0m50-8h0m5 6h0m34-17h0m4-15h0m15 3h0m50 5h0m2 16h0m15 8h0m3-33h0m66-1h0m-1445 62h0m21-8h0m12 8h0m7 9h0m8-26h0m23 25h0m6-12h0m53 17h0m45-1h0m778-13h0m12 8h0m13-4h0m20 3h0m3-24h0m24 14h0m3-4h0m100 3h0m12-1h0m42-11h0m12 11h0m83-14h0m71-4h0m30 5h0m22 25h0m4-25h0m10 33h0m10-20h0m290 3h0m-1719 43h0m21-13h0m102 24h0m60-22h0m33-5h0m25 0h0m8-5h0m6 25h0m20 4h0m18 7h0m14-6h0m747 1h0m0-17h0m49-4h0m5 20h0m2-27h0m354 18h0m-1516 16h0m8 2h0m3-2h0m1 37h0m23-29h0m19 30h0m71-17h0m29-2h0m28 4h0m13 16h0m20-9h0m30 3h0m2-3h0m126-12h0m24 17h0m-290 7h0m30 36h0m33-38h0m52 1h0m8 15h0m-163 26h0m52 11h0m27 9h0m5-13h0m19 5h0m30-11h0m16 19h0m33 1h0m46-16h0m579 0h0m27 24h0m78 6h0m-968 10h0m47 20h0m43 3h0m6-6h0m26 0h0m12 11h0m5-19h0m69 20h0m25-29h0m18 27h0m7-29h0m23 16h0m615-22h0m15 14h0m26 9h0m-844 25h0m57-7h0m62 29h0m18-29h0m239 14h0m54 2h0m34 5h0m-317 19h0m356 38h0m51-1h0m60-29h0m17 8h0m10 18h0m26-15h0m262-17h0m4-2h0m5 25h0m12 6h0m9-3h0m38 6h0m45-17h0m12-7h0m24-3h0m42 14h0m-955 33h0m1-3h0m13 24h0m37-28h0m14-4h0m306 30h0m6-20h0m8-12h0m5 18h0m28 7h0m13-4h0m8 16h0m311-24h0m8-7h0m29 10h0m2 0h0m80-11h0m13 10h0m15-1h0m33 7h0m3-10h0m6-1h0m-916 51h0m44-14h0m570 20h0m31-15h0m889 87h0m50-9h0m-1471 53h0m-7 33h0m1 9h0m2-11h0m1 37h0m5 14h0m5-15h0m7 23h0m13 4h0m155-13h0m13 3h0m3-13h0m7 10h0m248 11h0m351 2h0m-780 12h0m1-7h0m11 23h0m6 7h0m105 5h0m39-30h0m3 0h0m215 0h0m19 12h0m245 13h0m138-24h0m1 3h0m11 21h0m35-6h0m8-8h0m57-11h0m-817 52h0m10 11h0m2-5h0m38-11h0m61 2h0m2 8h0m569-23h0m-672 44h0m9 5h0m14-1h0m30 3h0m10 1h0m9 7h0m5 13h0m1-18h0m5 6h0m3 15h0m18-28h0m588 0h0m78-1h0m14 12h0m-298 64h0m39 1h0m1 1h0m43 11h0m18 1h0m42 18h0m34 3h0m17-28h0m25 15h0m61-26h0m-165 44h0m8 17h0m3 7h0m12 7h0m21-8h0m57-10h0m8 4h0m3-3h0"/>
<path stroke="#1a1042" d="M1941 338h0m7-5h0m0 7h0m1-4h0m0-3h0m3 1h0m-6 18h0m12 1h0m3 1h0m2-12h0m16 18h0m2-3h0m-916 86h0m355 4h0m25 31h0m124 103h0m582 43h0m-47 39h0m9-1h0m16 15h0m28 7h0m-1315 38h0m768-4h0m229-5h0m68 17h0m-1043 33h0m23-22h0m891 21h0m-918 84h0m-215 50h0m75-12h0m7 0h0m583-18h0m4 5h0m6 0h0m8 6h0m37 17h0m-731 14h0m34-6h0m186 19h0m-222 49h0m60 1h0m700 5h0m22-17h0m80 14h0m14-14h0m57 12h0m-883 30h0m5 3h0m69 4h0m1 10h0m32-11h0m149 1h0m585-9h0m23 1h0m3 13h0m6-27h0m1-6h0m-872 42h0m13 23h0m30 1h0m626-18h0m-108 226h0m-312 20h0m27-1h0m196 19h0m20-13h0m13 0h0m29-1h0m13 9h0m244 11h0m20 1h0m16-1h0m-629 4h0m130 19h0m4-1h0m452-19h0m109 36h0m-625 8h0m625 1h0m118 3h0m-311 62h0m185-18h0m9 10h0m78-1h0m-254 25h0m3-3h0m22 7h0m55-2h0m4 3h0m19-6h0m3 10h0m6-2h0m12 11h0m16 7h0m17-10h0m11 7h0m15-2h0m14 9h0m5-1h0m5-21h0m30-2h0m12 15h0m17 6h0m-174 19h0m20 10h0m8-4h0m5-18h0m38 31h0m8-12h0m46-13h0m41 11h0m5-13h0"/>
<path stroke="#f7705c" d="M475 767h0m123 47h0m-71 67h0m61 37h0m414 27h0m448 24h0m48 0h0m-41 19h0m120 17h0m-260 35h0"/>
<path stroke="#3b0f70" d="M1157 251h0m0 4h0m9 2h0m33-1h0m4-10h0m19 9h0m-94 40h0m5-27h0m4-3h0m5 8h0m3 27h0m1-16h0m11-14h0m4 9h0m1-18h0m23 30h0m23-30h0m6 7h0m11 27h0m12-14h0m20 9h0m34 1h0m-85 32h0m4 4h0m27 12h0m8-29h0m42 17h0m17 1h0m7-20h0m3 26h0m20-18h0m2 21h0m-186 38h0m61 3h0m33-38h0m0 8h0m19-2h0m7 13h0m1 0h0m25 4h0m0-13h0m8 21h0m6-7h0m3 5h0m7 6h0m12-7h0m-157 15h0m11 5h0m2 5h0m27 17h0m5-13h0m16 19h0m18-17h0m3 1h0m14-1h0m7-3h0m4 21h0m31-19h0m6 4h0m18-12h0m4-7h0m-210 77h0m295 80h0m-132 30h0m34-13h0m36-13h0m23 24h0m15-5h0m5-11h0m3-8h0m10 3h0m657 32h0m-813 9h0m110 8h0m28-10h0m14 17h0m197 16h0m2-13h0m97 12h0m24-15h0m42 8h0m7 6h0m25-13h0m18 13h0m6-6h0m214-28h0m16 10h0m-807 30h0m50 3h0m25 13h0m18 9h0m45-10h0m80-1h0m53-14h0m69 33h0m16-20h0m29 24h0m119-19h0m7-11h0m2 7h0m24 23h0m32-17h0m29-9h0m16 9h0m11 16h0m-1406 15h0m5-4h0m4-4h0m23 3h0m38 26h0m31-5h0m56 7h0m6 0h0m26-24h0m830 6h0m15 14h0m78-16h0m5 10h0m2-20h0m12 31h0m23-14h0m-1225 47h0m67-3h0m21-5h0m15-16h0m7 17h0m1-13h0m10 28h0m0-2h0m6 0h0m83-30h0m32 1h0m7 7h0m7-1h0m18-8h0m37 14h0m7-1h0m28 12h0m720-19h0m86 2h0m46 8h0m-1198 41h0m56 4h0m8-6h0m21 16h0m5-29h0m7-6h0m74 16h0m71 22h0m119-26h0m-355 29h0m21 31h0m45-1h0m15 1h0m32-23h0m23-5h0m57 5h0m28 10h0m2 17h0m202-10h0m71 12h0m-461 2h0m15 2h0m29 33h0m5-22h0m33 15h0m8-19h0m54-3h0m11 13h0m116-10h0m144-8h0m34 6h0m-480 49h0m10 8h0m8 3h0m19-15h0m6-10h0m8 29h0m12 1h0m36-15h0m27-5h0m59 21h0m17-34h0m8 11h0m14-5h0m11-4h0m13 0h0m-166 45h0m43-5h0m2 11h0m1-4h0m381 1h0m20 8h0m23 3h0m60 13h0m27 3h0m-28 18h0m8 16h0m14-11h0m27 10h0m36-5h0m11 12h0m-134 12h0m1 15h0m18-11h0m17 13h0m11 1h0m31-24h0m4 13h0m1122 107h0m25 31h0m1-8h0m-1426 83h0m5-24h0m3 28h0m10 14h0m819 27h0m-630 16h0m607 27h0m14-17h0m-746 38h0m10 3h0m770-14h0m14-2h0"/>
<path stroke="#140e36" d="M1203 253h0m6 7h0m14-5h0m-85 23h0m27-6h0m22-11h0m58 21h0m10-18h0m15 21h0m-108 44h0m75 10h0m6-9h0m5-9h0m11 14h0m5 0h0m13 4h0m24-28h0m38 26h0m8-8h0m5 8h0m-152 6h0m12 3h0m35 1h0m15 13h0m9-4h0m22 23h0m13-11h0m60-9h0m-205 51h0m61 9h0m17-32h0m29 19h0m37-3h0m7 5h0m8 8h0m24-32h0m8 8h0m2 3h0m6 24h0m-225 17h0m46-3h0m-507 50h0m468-18h0m-354 40h0m617 20h0m1 19h0m129 8h0m-271 40h0m10 17h0m17 4h0m10-21h0m2-4h0m32-1h0m27-7h0m43 26h0m38-22h0m1 30h0m229-4h0m18 5h0m34-14h0m46 17h0m1-18h0m57 7h0m96 4h0m124-12h0m72-5h0m1-10h0m9 25h0m-835 28h0m10 7h0m1 5h0m10-4h0m23-12h0m28-7h0m64-2h0m10 34h0m58-19h0m18-4h0m46 23h0m1-34h0m50 33h0m98-30h0m11 6h0m30-4h0m32 4h0m26 27h0m4-15h0m59 3h0m-383 34h0m1 6h0m27-18h0m51 19h0m43-19h0m-1156 63h0m40-24h0m63-4h0m49 9h0m4 21h0m25 1h0m0-22h0m37 4h0m49 17h0m1-16h0m654 11h0m97-23h0m24 23h0m12-1h0m36-13h0m18-14h0m2 12h0m-1128 34h0m100 30h0m28-11h0m184-25h0m-113 59h0m-183 36h0m96-9h0m18 9h0m34 19h0m7-19h0m13 10h0m1 9h0m30-4h0m43-25h0m146 8h0m-367 40h0m12 19h0m30 2h0m75-28h0m6 22h0m37-13h0m-152 29h0m1 2h0m436 10h0m41 1h0m4 11h0m261 1h0m-245 17h0m12 15h0m9 14h0m11-13h0m2 16h0m39-20h0m4 5h0m15-14h0m26-3h0m350-5h0m-407 59h0m145 13h0m-14 9h0m1016 91h0m13 7h0m2-11h0m-1385 63h0m-33 36h0m6-28h0m105 46h0m81 14h0m3 7h0m27 7h0m7-11h0m558 13h0m102-10h0m-835 27h0m145-14h0m553 31h0m35-14h0m0 7h0m-695 39h0m5-3h0m766-15h0m-715 48h0m20-5h0m3 1h0m20 27h0m21-8h0m543-15h0"/></g>
<g stroke="#000" fill="none">
<line x1="223.9" y1="142" x2="223.9" y2="1604.6" stroke-width="4.2"/>
<line x1="221.8" y1="1602.4" x2="2429" y2="1602.4" stroke-width="4.4"/>
<line x1="478.2" y1="1602" x2="478.2" y2="1617" stroke-width="4.2"/>
<line x1="863.4" y1="1602" x2="863.4" y2="1617" stroke-width="4.2"/>
<line x1="1248.5" y1="1602" x2="1248.5" y2="1617" stroke-width="4.2"/>
<line x1="1633.7" y1="1602" x2="1633.7" y2="1617" stroke-width="4.2"/>
<line x1="2018.8" y1="1602" x2="2018.8" y2="1617" stroke-width="4.2"/>
<line x1="2403.9" y1="1602" x2="2403.9" y2="1617" stroke-width="4.2"/>
<line x1="209.3" y1="424.6" x2="224" y2="424.6" stroke-width="4.4"/>
<line x1="209.3" y1="852.1" x2="224" y2="852.1" stroke-width="4.4"/>
<line x1="209.3" y1="1279.6" x2="224" y2="1279.6" stroke-width="4.4"/>
</g>
<text x="478.2" y="1665.8" font-size="50" text-anchor="middle">-10</text>
<text x="863.4" y="1665.8" font-size="50" text-anchor="middle">-5</text>
<text x="1248.5" y="1665.8" font-size="50" text-anchor="middle">0</text>
<text x="1633.7" y="1665.8" font-size="50" text-anchor="middle">5</text>
<text x="2018.8" y="1665.8" font-size="50" text-anchor="middle">10</text>
<text x="2403.9" y="1665.8" font-size="50" text-anchor="middle">15</text>
<text x="197" y="442.9" font-size="50" text-anchor="end">10</text>
<text x="197" y="870.4" font-size="50" text-anchor="end">0</text>
<text x="197" y="1297.9" font-size="50" text-anchor="end">-10</text>
<text x="1325.5" y="102" font-size="66.67" font-weight="bold" text-anchor="middle">Sf3b3</text>
<text x="1325.5" y="1734.7" font-size="58.33" text-anchor="middle">umap_1</text>
<text transform="translate(95,872) rotate(-90)" x="0" y="0" font-size="58.33" text-anchor="middle">umap_2</text>
<rect x="2485" y="714" width="64" height="319" fill="url(#g)"/>
<g stroke="#fff" stroke-width="1.7">
<line x1="2485" y1="1033.0" x2="2497.8" y2="1033.0"/><line x1="2536.2" y1="1033.0" x2="2549" y2="1033.0"/>
<line x1="2485" y1="969.1" x2="2497.8" y2="969.1"/><line x1="2536.2" y1="969.1" x2="2549" y2="969.1"/>
<line x1="2485" y1="905.2" x2="2497.8" y2="905.2"/><line x1="2536.2" y1="905.2" x2="2549" y2="905.2"/>
<line x1="2485" y1="841.3" x2="2497.8" y2="841.3"/><line x1="2536.2" y1="841.3" x2="2549" y2="841.3"/>
<line x1="2485" y1="777.4" x2="2497.8" y2="777.4"/><line x1="2536.2" y1="777.4" x2="2549" y2="777.4"/>
<line x1="2485" y1="713.5" x2="2497.8" y2="713.5"/><line x1="2536.2" y1="713.5" x2="2549" y2="713.5"/>
</g>
<text x="2578" y="1051.0" font-size="50">0.0</text>
<text x="2578" y="987.1" font-size="50">0.5</text>
<text x="2578" y="923.2" font-size="50">1.0</text>
<text x="2578" y="859.3" font-size="50">1.5</text>
<text x="2578" y="795.4" font-size="50">2.0</text>
<text x="2578" y="731.5" font-size="50">2.5</text>
</svg></body></html>
